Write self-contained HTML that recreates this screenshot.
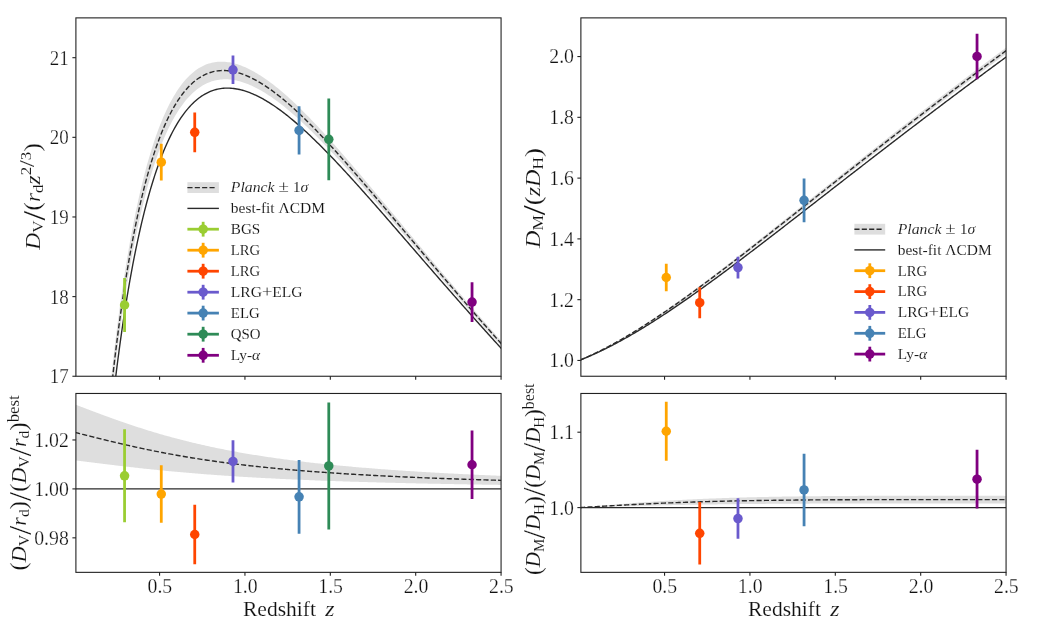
<!DOCTYPE html>
<html><head><meta charset="utf-8"><title>BAO distance measurements</title>
<style>
html,body{margin:0;padding:0;background:#fff;}
svg{display:block;}
text{font-family:"Liberation Serif",serif;fill:#111;stroke:#fff;stroke-width:0.15px;}
text.t{stroke-width:0.25px;}
text.l{stroke-width:0.1px;}
tspan.s{stroke-width:0.1px;}
</style></head>
<body>
<svg width="1044" height="629" viewBox="0 0 1044 629" style="will-change:transform">
<rect width="1044" height="629" fill="#fff"/>
<defs>
<clipPath id="cTL"><rect x="75.9" y="17.88" width="425.17" height="358.37"/></clipPath>
<clipPath id="cBL"><rect x="75.9" y="393.47" width="425.17" height="178.88"/></clipPath>
<clipPath id="cTR"><rect x="580.88" y="17.88" width="425.19" height="358.37"/></clipPath>
<clipPath id="cBR"><rect x="580.88" y="393.47" width="425.19" height="178.88"/></clipPath>
</defs>
<g clip-path="url(#cTL)">
<path d="M75.05,1325.00 L75.47,1267.16 L75.90,1221.19 L76.32,1182.46 L76.74,1148.70 L77.17,1118.59 L77.59,1091.31 L78.01,1066.29 L78.44,1043.13 L78.86,1021.54 L79.28,1001.28 L79.70,982.17 L80.13,964.08 L80.55,946.89 L80.97,930.50 L81.40,914.83 L81.82,899.81 L82.24,885.38 L82.67,871.50 L83.09,858.12 L83.51,845.20 L83.94,832.71 L84.36,820.61 L84.78,808.89 L85.21,797.51 L85.63,786.46 L86.05,775.72 L86.48,765.27 L86.90,755.09 L87.32,745.16 L87.75,735.49 L88.17,726.04 L88.59,716.82 L89.02,707.81 L89.44,699.00 L89.86,690.38 L90.29,681.95 L90.71,673.70 L91.13,665.61 L91.56,657.69 L91.98,649.93 L92.40,642.31 L92.83,634.84 L93.25,627.51 L93.67,620.32 L94.10,613.25 L94.52,606.31 L94.94,599.50 L95.37,592.80 L95.79,586.21 L96.21,579.74 L96.64,573.37 L97.06,567.11 L97.48,560.95 L97.91,554.89 L98.33,548.92 L98.75,543.05 L99.18,537.26 L99.60,531.57 L100.02,525.96 L100.45,520.43 L100.87,514.98 L101.29,509.62 L101.72,504.33 L102.14,499.12 L102.56,493.98 L102.99,488.91 L103.41,483.91 L103.83,478.98 L104.26,474.12 L104.68,469.33 L105.10,464.60 L105.53,459.93 L105.95,455.33 L106.37,450.78 L106.80,446.30 L107.22,441.87 L107.64,437.50 L108.07,433.18 L108.49,428.92 L108.91,424.72 L109.34,420.56 L109.76,416.46 L110.18,412.41 L110.60,408.41 L111.03,404.46 L111.45,400.55 L111.87,396.69 L112.30,392.88 L112.72,389.12 L113.14,385.40 L113.57,381.72 L113.99,378.09 L114.41,374.50 L114.84,370.95 L115.26,367.44 L115.68,363.97 L116.11,360.55 L116.53,357.16 L116.95,353.81 L117.38,350.50 L117.80,347.23 L118.22,343.99 L118.65,340.79 L119.07,337.63 L119.49,334.50 L119.92,331.41 L120.34,328.35 L120.76,325.32 L121.19,322.33 L121.61,319.37 L122.03,316.45 L122.46,313.55 L122.88,310.69 L123.30,307.86 L123.73,305.06 L124.15,302.29 L124.57,299.55 L125.00,296.84 L125.42,294.16 L126.88,285.11 L128.35,276.39 L129.81,267.98 L131.27,259.88 L132.74,252.07 L134.20,244.54 L135.66,237.28 L137.13,230.28 L138.59,223.53 L140.06,217.02 L141.52,210.74 L142.98,204.69 L144.45,198.85 L145.91,193.22 L147.37,187.79 L148.84,182.56 L150.30,177.52 L151.76,172.66 L153.23,167.98 L154.69,163.48 L156.15,159.14 L157.62,154.96 L159.08,150.93 L160.55,147.06 L162.01,143.34 L163.47,139.77 L164.94,136.33 L166.40,133.03 L167.86,129.86 L169.33,126.81 L170.79,123.90 L172.25,121.10 L173.72,118.42 L175.18,115.86 L176.64,113.40 L178.11,111.06 L179.57,108.82 L181.04,106.69 L182.50,104.65 L183.96,102.71 L185.43,100.87 L186.89,99.12 L188.35,97.46 L189.82,95.88 L191.28,94.40 L192.74,92.99 L194.21,91.67 L195.67,90.42 L197.13,89.25 L198.60,88.16 L200.06,87.14 L201.53,86.19 L202.99,85.31 L204.45,84.49 L205.92,83.74 L207.38,83.06 L208.84,82.44 L210.31,81.88 L211.77,81.37 L213.23,80.93 L214.70,80.54 L216.16,80.21 L217.62,79.93 L219.09,79.70 L220.55,79.52 L222.02,79.40 L223.48,79.32 L224.94,79.28 L226.41,79.30 L227.87,79.35 L229.33,79.46 L230.80,79.60 L232.26,79.79 L233.72,80.01 L235.19,80.28 L236.65,80.58 L238.12,80.92 L239.58,81.30 L241.04,81.71 L242.51,82.16 L243.97,82.65 L245.43,83.16 L246.90,83.71 L248.36,84.29 L249.82,84.90 L251.29,85.55 L252.75,86.22 L254.21,86.92 L255.68,87.65 L257.14,88.40 L258.61,89.19 L260.07,90.00 L261.53,90.83 L263.00,91.69 L264.46,92.58 L265.92,93.49 L267.39,94.42 L268.85,95.38 L270.31,96.36 L271.78,97.36 L273.24,98.38 L274.70,99.43 L276.17,100.49 L277.63,101.57 L279.10,102.68 L280.56,103.80 L282.02,104.94 L283.49,106.10 L284.95,107.28 L286.41,108.47 L287.88,109.69 L289.34,110.92 L290.80,112.16 L292.27,113.42 L293.73,114.70 L295.19,115.99 L296.66,117.30 L298.12,118.62 L299.59,119.95 L301.05,121.30 L302.51,122.66 L303.98,124.03 L305.44,125.42 L306.90,126.82 L308.37,128.23 L309.83,129.65 L311.29,131.09 L312.76,132.53 L314.22,133.99 L315.68,135.46 L317.15,136.93 L318.61,138.42 L320.08,139.91 L321.54,141.42 L323.00,142.93 L324.47,144.45 L325.93,145.99 L327.39,147.52 L328.86,149.07 L330.32,150.63 L331.78,152.19 L333.25,153.76 L334.71,155.33 L336.17,156.92 L337.64,158.51 L339.10,160.10 L340.56,161.70 L342.03,163.31 L343.49,164.92 L344.96,166.54 L346.42,168.17 L347.88,169.80 L349.35,171.43 L350.81,173.07 L352.27,174.71 L353.74,176.36 L355.20,178.01 L356.66,179.67 L358.13,181.33 L359.59,182.99 L361.06,184.66 L362.52,186.33 L363.98,188.00 L365.45,189.68 L366.91,191.36 L368.37,193.04 L369.84,194.72 L371.30,196.41 L372.76,198.10 L374.23,199.79 L375.69,201.49 L377.15,203.18 L378.62,204.88 L380.08,206.58 L381.55,208.28 L383.01,209.98 L384.47,211.69 L385.94,213.39 L387.40,215.10 L388.86,216.81 L390.33,218.52 L391.79,220.23 L393.25,221.94 L394.72,223.65 L396.18,225.37 L397.64,227.08 L399.11,228.79 L400.57,230.51 L402.04,232.22 L403.50,233.94 L404.96,235.65 L406.43,237.37 L407.89,239.08 L409.35,240.80 L410.82,242.51 L412.28,244.23 L413.74,245.94 L415.21,247.66 L416.67,249.37 L418.13,251.08 L419.60,252.80 L421.06,254.51 L422.52,256.22 L423.99,257.93 L425.45,259.64 L426.92,261.35 L428.38,263.06 L429.84,264.77 L431.31,266.47 L432.77,268.18 L434.23,269.88 L435.70,271.59 L437.16,273.29 L438.62,274.99 L440.09,276.69 L441.55,278.39 L443.01,280.09 L444.48,281.78 L445.94,283.48 L447.41,285.17 L448.87,286.86 L450.33,288.55 L451.80,290.24 L453.26,291.93 L454.72,293.61 L456.19,295.29 L457.65,296.98 L459.11,298.66 L460.58,300.33 L462.04,302.01 L463.51,303.68 L464.97,305.36 L466.43,307.03 L467.90,308.69 L469.36,310.36 L470.82,312.02 L472.29,313.69 L473.75,315.35 L475.21,317.01 L476.68,318.66 L478.14,320.32 L479.60,321.97 L481.07,323.62 L482.53,325.26 L484.00,326.91 L485.46,328.55 L486.92,330.19 L488.39,331.83 L489.85,333.47 L491.31,335.10 L492.78,336.73 L494.24,338.36 L495.70,339.99 L497.17,341.61 L498.63,343.23 L500.09,344.85 L501.56,346.47 L503.02,348.08 L504.49,349.69 L504.49,344.63 L503.02,342.99 L501.56,341.35 L500.09,339.70 L498.63,338.06 L497.17,336.41 L495.70,334.75 L494.24,333.10 L492.78,331.44 L491.31,329.78 L489.85,328.12 L488.39,326.45 L486.92,324.78 L485.46,323.11 L484.00,321.44 L482.53,319.76 L481.07,318.08 L479.60,316.40 L478.14,314.72 L476.68,313.04 L475.21,311.35 L473.75,309.66 L472.29,307.97 L470.82,306.27 L469.36,304.57 L467.90,302.87 L466.43,301.17 L464.97,299.47 L463.51,297.76 L462.04,296.05 L460.58,294.34 L459.11,292.63 L457.65,290.92 L456.19,289.20 L454.72,287.48 L453.26,285.76 L451.80,284.04 L450.33,282.32 L448.87,280.59 L447.41,278.86 L445.94,277.13 L444.48,275.40 L443.01,273.67 L441.55,271.93 L440.09,270.19 L438.62,268.46 L437.16,266.72 L435.70,264.97 L434.23,263.23 L432.77,261.49 L431.31,259.74 L429.84,257.99 L428.38,256.25 L426.92,254.50 L425.45,252.75 L423.99,250.99 L422.52,249.24 L421.06,247.49 L419.60,245.73 L418.13,243.98 L416.67,242.22 L415.21,240.46 L413.74,238.70 L412.28,236.94 L410.82,235.18 L409.35,233.42 L407.89,231.66 L406.43,229.90 L404.96,228.14 L403.50,226.38 L402.04,224.62 L400.57,222.85 L399.11,221.09 L397.64,219.33 L396.18,217.57 L394.72,215.81 L393.25,214.05 L391.79,212.28 L390.33,210.52 L388.86,208.76 L387.40,207.00 L385.94,205.24 L384.47,203.49 L383.01,201.73 L381.55,199.97 L380.08,198.22 L378.62,196.47 L377.15,194.71 L375.69,192.96 L374.23,191.21 L372.76,189.47 L371.30,187.72 L369.84,185.98 L368.37,184.23 L366.91,182.49 L365.45,180.76 L363.98,179.02 L362.52,177.29 L361.06,175.56 L359.59,173.83 L358.13,172.11 L356.66,170.39 L355.20,168.67 L353.74,166.96 L352.27,165.25 L350.81,163.54 L349.35,161.84 L347.88,160.14 L346.42,158.45 L344.96,156.76 L343.49,155.07 L342.03,153.39 L340.56,151.72 L339.10,150.05 L337.64,148.39 L336.17,146.73 L334.71,145.08 L333.25,143.43 L331.78,141.79 L330.32,140.16 L328.86,138.53 L327.39,136.91 L325.93,135.30 L324.47,133.69 L323.00,132.10 L321.54,130.51 L320.08,128.93 L318.61,127.36 L317.15,125.79 L315.68,124.24 L314.22,122.70 L312.76,121.16 L311.29,119.64 L309.83,118.12 L308.37,116.62 L306.90,115.13 L305.44,113.64 L303.98,112.17 L302.51,110.72 L301.05,109.27 L299.59,107.84 L298.12,106.42 L296.66,105.01 L295.19,103.62 L293.73,102.24 L292.27,100.87 L290.80,99.52 L289.34,98.19 L287.88,96.87 L286.41,95.56 L284.95,94.27 L283.49,93.00 L282.02,91.75 L280.56,90.51 L279.10,89.30 L277.63,88.10 L276.17,86.91 L274.70,85.75 L273.24,84.61 L271.78,83.49 L270.31,82.39 L268.85,81.31 L267.39,80.25 L265.92,79.21 L264.46,78.20 L263.00,77.21 L261.53,76.25 L260.07,75.30 L258.61,74.39 L257.14,73.50 L255.68,72.63 L254.21,71.79 L252.75,70.98 L251.29,70.20 L249.82,69.45 L248.36,68.72 L246.90,68.03 L245.43,67.37 L243.97,66.74 L242.51,66.14 L241.04,65.57 L239.58,65.04 L238.12,64.55 L236.65,64.09 L235.19,63.66 L233.72,63.28 L232.26,62.93 L230.80,62.62 L229.33,62.36 L227.87,62.13 L226.41,61.95 L224.94,61.81 L223.48,61.72 L222.02,61.68 L220.55,61.68 L219.09,61.73 L217.62,61.83 L216.16,61.98 L214.70,62.19 L213.23,62.44 L211.77,62.76 L210.31,63.13 L208.84,63.56 L207.38,64.05 L205.92,64.60 L204.45,65.22 L202.99,65.90 L201.53,66.65 L200.06,67.47 L198.60,68.35 L197.13,69.31 L195.67,70.35 L194.21,71.46 L192.74,72.65 L191.28,73.92 L189.82,75.27 L188.35,76.71 L186.89,78.24 L185.43,79.85 L183.96,81.56 L182.50,83.37 L181.04,85.27 L179.57,87.27 L178.11,89.37 L176.64,91.58 L175.18,93.90 L173.72,96.34 L172.25,98.88 L170.79,101.55 L169.33,104.34 L167.86,107.25 L166.40,110.29 L164.94,113.47 L163.47,116.78 L162.01,120.23 L160.55,123.83 L159.08,127.58 L157.62,131.48 L156.15,135.55 L154.69,139.77 L153.23,144.17 L151.76,148.73 L150.30,153.48 L148.84,158.42 L147.37,163.55 L145.91,168.87 L144.45,174.40 L142.98,180.15 L141.52,186.11 L140.06,192.31 L138.59,198.73 L137.13,205.41 L135.66,212.33 L134.20,219.53 L132.74,226.99 L131.27,234.74 L129.81,242.79 L128.35,251.15 L126.88,259.83 L125.42,268.85 L125.00,271.52 L124.57,274.23 L124.15,276.96 L123.73,279.72 L123.30,282.52 L122.88,285.34 L122.46,288.20 L122.03,291.09 L121.61,294.02 L121.19,296.97 L120.76,299.96 L120.34,302.99 L119.92,306.05 L119.49,309.14 L119.07,312.27 L118.65,315.44 L118.22,318.64 L117.80,321.88 L117.38,325.16 L116.95,328.47 L116.53,331.83 L116.11,335.23 L115.68,338.66 L115.26,342.14 L114.84,345.66 L114.41,349.22 L113.99,352.82 L113.57,356.47 L113.14,360.16 L112.72,363.89 L112.30,367.68 L111.87,371.50 L111.45,375.38 L111.03,379.31 L110.60,383.28 L110.18,387.30 L109.76,391.38 L109.34,395.51 L108.91,399.69 L108.49,403.92 L108.07,408.21 L107.64,412.55 L107.22,416.95 L106.80,421.42 L106.37,425.93 L105.95,430.52 L105.53,435.16 L105.10,439.86 L104.68,444.63 L104.26,449.47 L103.83,454.37 L103.41,459.35 L102.99,464.39 L102.56,469.51 L102.14,474.70 L101.72,479.96 L101.29,485.30 L100.87,490.73 L100.45,496.23 L100.02,501.82 L99.60,507.49 L99.18,513.25 L98.75,519.10 L98.33,525.04 L97.91,531.08 L97.48,537.22 L97.06,543.46 L96.64,549.80 L96.21,556.25 L95.79,562.80 L95.37,569.47 L94.94,576.26 L94.52,583.17 L94.10,590.21 L93.67,597.37 L93.25,604.67 L92.83,612.10 L92.40,619.68 L91.98,627.41 L91.56,635.29 L91.13,643.33 L90.71,651.54 L90.29,659.92 L89.86,668.49 L89.44,677.24 L89.02,686.19 L88.59,695.35 L88.17,704.72 L87.75,714.33 L87.32,724.17 L86.90,734.26 L86.48,744.62 L86.05,755.25 L85.63,766.18 L85.21,777.43 L84.78,789.01 L84.36,800.95 L83.94,813.27 L83.51,825.99 L83.09,839.16 L82.67,852.79 L82.24,866.94 L81.82,881.65 L81.40,896.96 L80.97,912.94 L80.55,929.66 L80.13,947.19 L79.70,965.65 L79.28,985.14 L78.86,1005.82 L78.44,1027.87 L78.01,1051.51 L77.59,1077.06 L77.17,1104.92 L76.74,1135.68 L76.32,1170.17 L75.90,1209.75 L75.47,1256.73 L75.05,1315.86 Z" fill="#dedede"/>
<path d="M75.05,1320.43 L75.47,1261.95 L75.90,1215.47 L76.32,1176.32 L76.74,1142.19 L77.17,1111.76 L77.59,1084.18 L78.01,1058.90 L78.44,1035.50 L78.86,1013.68 L79.28,993.21 L79.70,973.91 L80.13,955.64 L80.55,938.27 L80.97,921.72 L81.40,905.89 L81.82,890.73 L82.24,876.16 L82.67,862.15 L83.09,848.64 L83.51,835.60 L83.94,822.99 L84.36,810.78 L84.78,798.95 L85.21,787.47 L85.63,776.32 L86.05,765.49 L86.48,754.94 L86.90,744.67 L87.32,734.66 L87.75,724.91 L88.17,715.38 L88.59,706.09 L89.02,697.00 L89.44,688.12 L89.86,679.44 L90.29,670.94 L90.71,662.62 L91.13,654.47 L91.56,646.49 L91.98,638.67 L92.40,631.00 L92.83,623.47 L93.25,616.09 L93.67,608.84 L94.10,601.73 L94.52,594.74 L94.94,587.88 L95.37,581.14 L95.79,574.51 L96.21,567.99 L96.64,561.59 L97.06,555.28 L97.48,549.08 L97.91,542.99 L98.33,536.98 L98.75,531.07 L99.18,525.26 L99.60,519.53 L100.02,513.89 L100.45,508.33 L100.87,502.85 L101.29,497.46 L101.72,492.15 L102.14,486.91 L102.56,481.74 L102.99,476.65 L103.41,471.63 L103.83,466.68 L104.26,461.80 L104.68,456.98 L105.10,452.23 L105.53,447.55 L105.95,442.92 L106.37,438.36 L106.80,433.86 L107.22,429.41 L107.64,425.03 L108.07,420.70 L108.49,416.42 L108.91,412.20 L109.34,408.03 L109.76,403.92 L110.18,399.86 L110.60,395.84 L111.03,391.88 L111.45,387.97 L111.87,384.10 L112.30,380.28 L112.72,376.51 L113.14,372.78 L113.57,369.09 L113.99,365.45 L114.41,361.86 L114.84,358.30 L115.26,354.79 L115.68,351.32 L116.11,347.89 L116.53,344.50 L116.95,341.14 L117.38,337.83 L117.80,334.55 L118.22,331.32 L118.65,328.11 L119.07,324.95 L119.49,321.82 L119.92,318.73 L120.34,315.67 L120.76,312.64 L121.19,309.65 L121.61,306.69 L122.03,303.77 L122.46,300.88 L122.88,298.02 L123.30,295.19 L123.73,292.39 L124.15,289.62 L124.57,286.89 L125.00,284.18 L125.42,281.50 L126.88,272.47 L128.35,263.77 L129.81,255.39 L131.27,247.31 L132.74,239.53 L134.20,232.04 L135.66,224.81 L137.13,217.85 L138.59,211.13 L140.06,204.66 L141.52,198.43 L142.98,192.42 L144.45,186.63 L145.91,181.05 L147.37,175.67 L148.84,170.49 L150.30,165.50 L151.76,160.70 L153.23,156.07 L154.69,151.62 L156.15,147.34 L157.62,143.22 L159.08,139.26 L160.55,135.45 L162.01,131.79 L163.47,128.27 L164.94,124.90 L166.40,121.66 L167.86,118.55 L169.33,115.58 L170.79,112.72 L172.25,109.99 L173.72,107.38 L175.18,104.88 L176.64,102.49 L178.11,100.22 L179.57,98.05 L181.04,95.98 L182.50,94.01 L183.96,92.14 L185.43,90.36 L186.89,88.68 L188.35,87.08 L189.82,85.58 L191.28,84.16 L192.74,82.82 L194.21,81.56 L195.67,80.38 L197.13,79.28 L198.60,78.26 L200.06,77.30 L201.53,76.42 L202.99,75.60 L204.45,74.86 L205.92,74.17 L207.38,73.56 L208.84,73.00 L210.31,72.50 L211.77,72.07 L213.23,71.69 L214.70,71.36 L216.16,71.09 L217.62,70.88 L219.09,70.71 L220.55,70.60 L222.02,70.54 L223.48,70.52 L224.94,70.55 L226.41,70.62 L227.87,70.74 L229.33,70.91 L230.80,71.11 L232.26,71.36 L233.72,71.64 L235.19,71.97 L236.65,72.33 L238.12,72.73 L239.58,73.17 L241.04,73.64 L242.51,74.15 L243.97,74.69 L245.43,75.26 L246.90,75.87 L248.36,76.51 L249.82,77.18 L251.29,77.87 L252.75,78.60 L254.21,79.36 L255.68,80.14 L257.14,80.95 L258.61,81.79 L260.07,82.65 L261.53,83.54 L263.00,84.45 L264.46,85.39 L265.92,86.35 L267.39,87.34 L268.85,88.34 L270.31,89.37 L271.78,90.42 L273.24,91.50 L274.70,92.59 L276.17,93.70 L277.63,94.83 L279.10,95.99 L280.56,97.16 L282.02,98.35 L283.49,99.55 L284.95,100.78 L286.41,102.02 L287.88,103.28 L289.34,104.55 L290.80,105.84 L292.27,107.15 L293.73,108.47 L295.19,109.80 L296.66,111.15 L298.12,112.52 L299.59,113.89 L301.05,115.28 L302.51,116.69 L303.98,118.10 L305.44,119.53 L306.90,120.97 L308.37,122.43 L309.83,123.89 L311.29,125.36 L312.76,126.85 L314.22,128.34 L315.68,129.85 L317.15,131.36 L318.61,132.89 L320.08,134.42 L321.54,135.96 L323.00,137.51 L324.47,139.07 L325.93,140.64 L327.39,142.22 L328.86,143.80 L330.32,145.39 L331.78,146.99 L333.25,148.59 L334.71,150.20 L336.17,151.82 L337.64,153.45 L339.10,155.08 L340.56,156.71 L342.03,158.35 L343.49,160.00 L344.96,161.65 L346.42,163.31 L347.88,164.97 L349.35,166.63 L350.81,168.31 L352.27,169.98 L353.74,171.66 L355.20,173.34 L356.66,175.03 L358.13,176.72 L359.59,178.41 L361.06,180.11 L362.52,181.81 L363.98,183.51 L365.45,185.22 L366.91,186.92 L368.37,188.64 L369.84,190.35 L371.30,192.06 L372.76,193.78 L374.23,195.50 L375.69,197.22 L377.15,198.95 L378.62,200.67 L380.08,202.40 L381.55,204.13 L383.01,205.86 L384.47,207.59 L385.94,209.32 L387.40,211.05 L388.86,212.79 L390.33,214.52 L391.79,216.26 L393.25,217.99 L394.72,219.73 L396.18,221.47 L397.64,223.21 L399.11,224.94 L400.57,226.68 L402.04,228.42 L403.50,230.16 L404.96,231.90 L406.43,233.63 L407.89,235.37 L409.35,237.11 L410.82,238.85 L412.28,240.59 L413.74,242.32 L415.21,244.06 L416.67,245.79 L418.13,247.53 L419.60,249.26 L421.06,251.00 L422.52,252.73 L423.99,254.46 L425.45,256.19 L426.92,257.92 L428.38,259.65 L429.84,261.38 L431.31,263.11 L432.77,264.83 L434.23,266.56 L435.70,268.28 L437.16,270.00 L438.62,271.72 L440.09,273.44 L441.55,275.16 L443.01,276.88 L444.48,278.59 L445.94,280.30 L447.41,282.02 L448.87,283.73 L450.33,285.43 L451.80,287.14 L453.26,288.84 L454.72,290.55 L456.19,292.25 L457.65,293.95 L459.11,295.64 L460.58,297.34 L462.04,299.03 L463.51,300.72 L464.97,302.41 L466.43,304.10 L467.90,305.78 L469.36,307.47 L470.82,309.15 L472.29,310.83 L473.75,312.50 L475.21,314.18 L476.68,315.85 L478.14,317.52 L479.60,319.19 L481.07,320.85 L482.53,322.51 L484.00,324.17 L485.46,325.83 L486.92,327.49 L488.39,329.14 L489.85,330.79 L491.31,332.44 L492.78,334.09 L494.24,335.73 L495.70,337.37 L497.17,339.01 L498.63,340.64 L500.09,342.28 L501.56,343.91 L503.02,345.54 L504.49,347.16" fill="none" stroke="#2a2a2a" stroke-width="1.39" stroke-dasharray="5.14 2.22"/>
<path d="M75.05,1329.68 L75.47,1272.49 L75.90,1227.04 L76.32,1188.75 L76.74,1155.36 L77.17,1125.58 L77.59,1098.60 L78.01,1073.85 L78.44,1050.94 L78.86,1029.58 L79.28,1009.53 L79.70,990.63 L80.13,972.73 L80.55,955.71 L80.97,939.49 L81.40,923.98 L81.82,909.11 L82.24,894.83 L82.67,881.08 L83.09,867.83 L83.51,855.03 L83.94,842.66 L84.36,830.68 L84.78,819.07 L85.21,807.80 L85.63,796.85 L86.05,786.20 L86.48,775.84 L86.90,765.75 L87.32,755.92 L87.75,746.33 L88.17,736.97 L88.59,727.82 L89.02,718.89 L89.44,710.15 L89.86,701.61 L90.29,693.24 L90.71,685.06 L91.13,677.04 L91.56,669.18 L91.98,661.47 L92.40,653.91 L92.83,646.50 L93.25,639.23 L93.67,632.08 L94.10,625.07 L94.52,618.18 L94.94,611.41 L95.37,604.76 L95.79,598.22 L96.21,591.79 L96.64,585.47 L97.06,579.25 L97.48,573.12 L97.91,567.10 L98.33,561.17 L98.75,555.33 L99.18,549.58 L99.60,543.92 L100.02,538.34 L100.45,532.85 L100.87,527.43 L101.29,522.09 L101.72,516.83 L102.14,511.65 L102.56,506.54 L102.99,501.49 L103.41,496.52 L103.83,491.62 L104.26,486.78 L104.68,482.01 L105.10,477.30 L105.53,472.65 L105.95,468.07 L106.37,463.54 L106.80,459.07 L107.22,454.66 L107.64,450.31 L108.07,446.01 L108.49,441.77 L108.91,437.57 L109.34,433.43 L109.76,429.35 L110.18,425.31 L110.60,421.32 L111.03,417.38 L111.45,413.48 L111.87,409.64 L112.30,405.83 L112.72,402.08 L113.14,398.37 L113.57,394.70 L113.99,391.07 L114.41,387.49 L114.84,383.95 L115.26,380.44 L115.68,376.98 L116.11,373.56 L116.53,370.18 L116.95,366.83 L117.38,363.53 L117.80,360.26 L118.22,357.02 L118.65,353.83 L119.07,350.66 L119.49,347.54 L119.92,344.44 L120.34,341.39 L120.76,338.36 L121.19,335.37 L121.61,332.41 L122.03,329.48 L122.46,326.59 L122.88,323.72 L123.30,320.89 L123.73,318.09 L124.15,315.32 L124.57,312.57 L125.00,309.86 L125.42,307.17 L126.88,298.11 L128.35,289.37 L129.81,280.94 L131.27,272.81 L132.74,264.97 L134.20,257.41 L135.66,250.12 L137.13,243.08 L138.59,236.29 L140.06,229.73 L141.52,223.41 L142.98,217.31 L144.45,211.42 L145.91,205.74 L147.37,200.26 L148.84,194.98 L150.30,189.88 L151.76,184.97 L153.23,180.23 L154.69,175.66 L156.15,171.26 L157.62,167.02 L159.08,162.94 L160.55,159.01 L162.01,155.22 L163.47,151.58 L164.94,148.07 L166.40,144.70 L167.86,141.47 L169.33,138.36 L170.79,135.37 L172.25,132.51 L173.72,129.76 L175.18,127.12 L176.64,124.60 L178.11,122.19 L179.57,119.88 L181.04,117.67 L182.50,115.57 L183.96,113.56 L185.43,111.64 L186.89,109.82 L188.35,108.09 L189.82,106.44 L191.28,104.88 L192.74,103.41 L194.21,102.01 L195.67,100.69 L197.13,99.45 L198.60,98.29 L200.06,97.20 L201.53,96.17 L202.99,95.22 L204.45,94.34 L205.92,93.52 L207.38,92.76 L208.84,92.07 L210.31,91.44 L211.77,90.87 L213.23,90.36 L214.70,89.90 L216.16,89.50 L217.62,89.15 L219.09,88.85 L220.55,88.61 L222.02,88.41 L223.48,88.26 L224.94,88.17 L226.41,88.11 L227.87,88.10 L229.33,88.14 L230.80,88.22 L232.26,88.34 L233.72,88.50 L235.19,88.70 L236.65,88.94 L238.12,89.22 L239.58,89.53 L241.04,89.89 L242.51,90.27 L243.97,90.69 L245.43,91.15 L246.90,91.64 L248.36,92.16 L249.82,92.71 L251.29,93.29 L252.75,93.90 L254.21,94.54 L255.68,95.21 L257.14,95.91 L258.61,96.64 L260.07,97.39 L261.53,98.17 L263.00,98.97 L264.46,99.80 L265.92,100.66 L267.39,101.54 L268.85,102.44 L270.31,103.36 L271.78,104.31 L273.24,105.28 L274.70,106.27 L276.17,107.28 L277.63,108.31 L279.10,109.36 L280.56,110.43 L282.02,111.53 L283.49,112.63 L284.95,113.76 L286.41,114.91 L287.88,116.07 L289.34,117.25 L290.80,118.45 L292.27,119.66 L293.73,120.89 L295.19,122.13 L296.66,123.39 L298.12,124.67 L299.59,125.95 L301.05,127.26 L302.51,128.57 L303.98,129.90 L305.44,131.24 L306.90,132.60 L308.37,133.97 L309.83,135.34 L311.29,136.74 L312.76,138.14 L314.22,139.55 L315.68,140.97 L317.15,142.41 L318.61,143.85 L320.08,145.31 L321.54,146.77 L323.00,148.25 L324.47,149.73 L325.93,151.22 L327.39,152.72 L328.86,154.23 L330.32,155.74 L331.78,157.27 L333.25,158.80 L334.71,160.34 L336.17,161.88 L337.64,163.43 L339.10,164.99 L340.56,166.56 L342.03,168.13 L343.49,169.71 L344.96,171.29 L346.42,172.88 L347.88,174.47 L349.35,176.07 L350.81,177.68 L352.27,179.29 L353.74,180.90 L355.20,182.52 L356.66,184.14 L358.13,185.77 L359.59,187.40 L361.06,189.03 L362.52,190.67 L363.98,192.31 L365.45,193.96 L366.91,195.60 L368.37,197.26 L369.84,198.91 L371.30,200.57 L372.76,202.23 L374.23,203.89 L375.69,205.55 L377.15,207.22 L378.62,208.89 L380.08,210.56 L381.55,212.23 L383.01,213.91 L384.47,215.58 L385.94,217.26 L387.40,218.94 L388.86,220.62 L390.33,222.30 L391.79,223.99 L393.25,225.67 L394.72,227.36 L396.18,229.04 L397.64,230.73 L399.11,232.42 L400.57,234.11 L402.04,235.80 L403.50,237.49 L404.96,239.18 L406.43,240.87 L407.89,242.56 L409.35,244.25 L410.82,245.94 L412.28,247.63 L413.74,249.32 L415.21,251.01 L416.67,252.70 L418.13,254.39 L419.60,256.08 L421.06,257.77 L422.52,259.46 L423.99,261.15 L425.45,262.84 L426.92,264.52 L428.38,266.21 L429.84,267.90 L431.31,269.58 L432.77,271.26 L434.23,272.95 L435.70,274.63 L437.16,276.31 L438.62,277.99 L440.09,279.67 L441.55,281.35 L443.01,283.03 L444.48,284.70 L445.94,286.38 L447.41,288.05 L448.87,289.72 L450.33,291.39 L451.80,293.06 L453.26,294.73 L454.72,296.39 L456.19,298.06 L457.65,299.72 L459.11,301.38 L460.58,303.04 L462.04,304.70 L463.51,306.36 L464.97,308.01 L466.43,309.66 L467.90,311.31 L469.36,312.96 L470.82,314.61 L472.29,316.25 L473.75,317.90 L475.21,319.54 L476.68,321.18 L478.14,322.81 L479.60,324.45 L481.07,326.08 L482.53,327.71 L484.00,329.34 L485.46,330.97 L486.92,332.59 L488.39,334.22 L489.85,335.84 L491.31,337.45 L492.78,339.07 L494.24,340.68 L495.70,342.29 L497.17,343.90 L498.63,345.51 L500.09,347.11 L501.56,348.72 L503.02,350.31 L504.49,351.91" fill="none" stroke="#2a2a2a" stroke-width="1.39"/>
<line x1="124.57" y1="331.95" x2="124.57" y2="278.04" stroke="#9acd32" stroke-width="2.78"/><circle cx="124.57" cy="304.99" r="4.75" fill="#9acd32"/>
<line x1="161.28" y1="180.62" x2="161.28" y2="143.77" stroke="#ffa500" stroke-width="2.78"/><circle cx="161.28" cy="162.20" r="4.75" fill="#ffa500"/>
<line x1="194.74" y1="152.15" x2="194.74" y2="112.55" stroke="#ff4500" stroke-width="2.78"/><circle cx="194.74" cy="132.35" r="4.75" fill="#ff4500"/>
<line x1="232.99" y1="83.95" x2="232.99" y2="55.61" stroke="#6a5acd" stroke-width="2.78"/><circle cx="232.99" cy="69.78" r="4.75" fill="#6a5acd"/>
<line x1="299.07" y1="154.60" x2="299.07" y2="106.32" stroke="#4682b4" stroke-width="2.78"/><circle cx="299.07" cy="130.46" r="4.75" fill="#4682b4"/>
<line x1="328.78" y1="180.20" x2="328.78" y2="98.43" stroke="#2e8b57" stroke-width="2.78"/><circle cx="328.78" cy="139.31" r="4.75" fill="#2e8b57"/>
<line x1="472.04" y1="321.88" x2="472.04" y2="282.18" stroke="#800080" stroke-width="2.78"/><circle cx="472.04" cy="302.03" r="4.75" fill="#800080"/>
</g>
<g clip-path="url(#cBL)">
<path d="M75.05,460.33 L75.47,460.39 L75.90,460.44 L76.32,460.49 L76.74,460.55 L77.17,460.60 L77.59,460.65 L78.01,460.71 L78.44,460.76 L78.86,460.81 L79.28,460.87 L79.70,460.92 L80.13,460.97 L80.55,461.03 L80.97,461.08 L81.40,461.13 L81.82,461.19 L82.24,461.24 L82.67,461.29 L83.09,461.35 L83.51,461.40 L83.94,461.45 L84.36,461.51 L84.78,461.56 L85.21,461.61 L85.63,461.67 L86.05,461.72 L86.48,461.77 L86.90,461.83 L87.32,461.88 L87.75,461.93 L88.17,461.99 L88.59,462.04 L89.02,462.09 L89.44,462.15 L89.86,462.20 L90.29,462.25 L90.71,462.31 L91.13,462.36 L91.56,462.41 L91.98,462.47 L92.40,462.52 L92.83,462.57 L93.25,462.62 L93.67,462.68 L94.10,462.73 L94.52,462.78 L94.94,462.84 L95.37,462.89 L95.79,462.94 L96.21,462.99 L96.64,463.05 L97.06,463.10 L97.48,463.15 L97.91,463.20 L98.33,463.26 L98.75,463.31 L99.18,463.36 L99.60,463.42 L100.02,463.47 L100.45,463.52 L100.87,463.57 L101.29,463.62 L101.72,463.68 L102.14,463.73 L102.56,463.78 L102.99,463.83 L103.41,463.89 L103.83,463.94 L104.26,463.99 L104.68,464.04 L105.10,464.09 L105.53,464.15 L105.95,464.20 L106.37,464.25 L106.80,464.30 L107.22,464.35 L107.64,464.40 L108.07,464.46 L108.49,464.51 L108.91,464.56 L109.34,464.61 L109.76,464.66 L110.18,464.71 L110.60,464.76 L111.03,464.82 L111.45,464.87 L111.87,464.92 L112.30,464.97 L112.72,465.02 L113.14,465.07 L113.57,465.12 L113.99,465.17 L114.41,465.22 L114.84,465.27 L115.26,465.32 L115.68,465.38 L116.11,465.43 L116.53,465.48 L116.95,465.53 L117.38,465.58 L117.80,465.63 L118.22,465.68 L118.65,465.73 L119.07,465.78 L119.49,465.83 L119.92,465.88 L120.34,465.93 L120.76,465.98 L121.19,466.03 L121.61,466.08 L122.03,466.13 L122.46,466.18 L122.88,466.23 L123.30,466.27 L123.73,466.32 L124.15,466.37 L124.57,466.42 L125.00,466.47 L125.42,466.52 L126.88,466.69 L128.35,466.86 L129.81,467.02 L131.27,467.19 L132.74,467.36 L134.20,467.52 L135.66,467.68 L137.13,467.85 L138.59,468.01 L140.06,468.17 L141.52,468.33 L142.98,468.49 L144.45,468.64 L145.91,468.80 L147.37,468.96 L148.84,469.11 L150.30,469.26 L151.76,469.42 L153.23,469.57 L154.69,469.72 L156.15,469.87 L157.62,470.01 L159.08,470.16 L160.55,470.31 L162.01,470.45 L163.47,470.59 L164.94,470.74 L166.40,470.88 L167.86,471.02 L169.33,471.16 L170.79,471.30 L172.25,471.43 L173.72,471.57 L175.18,471.70 L176.64,471.84 L178.11,471.97 L179.57,472.10 L181.04,472.23 L182.50,472.36 L183.96,472.49 L185.43,472.62 L186.89,472.75 L188.35,472.87 L189.82,472.99 L191.28,473.12 L192.74,473.24 L194.21,473.36 L195.67,473.48 L197.13,473.60 L198.60,473.72 L200.06,473.83 L201.53,473.95 L202.99,474.07 L204.45,474.18 L205.92,474.29 L207.38,474.40 L208.84,474.51 L210.31,474.62 L211.77,474.73 L213.23,474.84 L214.70,474.95 L216.16,475.05 L217.62,475.16 L219.09,475.26 L220.55,475.37 L222.02,475.47 L223.48,475.57 L224.94,475.67 L226.41,475.77 L227.87,475.87 L229.33,475.97 L230.80,476.06 L232.26,476.16 L233.72,476.25 L235.19,476.35 L236.65,476.44 L238.12,476.53 L239.58,476.63 L241.04,476.72 L242.51,476.81 L243.97,476.90 L245.43,476.98 L246.90,477.07 L248.36,477.16 L249.82,477.25 L251.29,477.33 L252.75,477.41 L254.21,477.50 L255.68,477.58 L257.14,477.66 L258.61,477.74 L260.07,477.83 L261.53,477.90 L263.00,477.98 L264.46,478.06 L265.92,478.14 L267.39,478.22 L268.85,478.29 L270.31,478.37 L271.78,478.44 L273.24,478.52 L274.70,478.59 L276.17,478.66 L277.63,478.74 L279.10,478.81 L280.56,478.88 L282.02,478.95 L283.49,479.02 L284.95,479.09 L286.41,479.16 L287.88,479.22 L289.34,479.29 L290.80,479.36 L292.27,479.42 L293.73,479.49 L295.19,479.55 L296.66,479.62 L298.12,479.68 L299.59,479.75 L301.05,479.81 L302.51,479.87 L303.98,479.93 L305.44,479.99 L306.90,480.05 L308.37,480.11 L309.83,480.17 L311.29,480.23 L312.76,480.29 L314.22,480.35 L315.68,480.40 L317.15,480.46 L318.61,480.52 L320.08,480.57 L321.54,480.63 L323.00,480.68 L324.47,480.74 L325.93,480.79 L327.39,480.84 L328.86,480.90 L330.32,480.95 L331.78,481.00 L333.25,481.05 L334.71,481.10 L336.17,481.15 L337.64,481.20 L339.10,481.25 L340.56,481.30 L342.03,481.35 L343.49,481.40 L344.96,481.45 L346.42,481.50 L347.88,481.54 L349.35,481.59 L350.81,481.64 L352.27,481.68 L353.74,481.73 L355.20,481.77 L356.66,481.82 L358.13,481.86 L359.59,481.91 L361.06,481.95 L362.52,482.00 L363.98,482.04 L365.45,482.08 L366.91,482.12 L368.37,482.17 L369.84,482.21 L371.30,482.25 L372.76,482.29 L374.23,482.33 L375.69,482.37 L377.15,482.41 L378.62,482.45 L380.08,482.49 L381.55,482.53 L383.01,482.57 L384.47,482.61 L385.94,482.65 L387.40,482.68 L388.86,482.72 L390.33,482.76 L391.79,482.80 L393.25,482.83 L394.72,482.87 L396.18,482.91 L397.64,482.94 L399.11,482.98 L400.57,483.01 L402.04,483.05 L403.50,483.08 L404.96,483.12 L406.43,483.15 L407.89,483.19 L409.35,483.22 L410.82,483.25 L412.28,483.29 L413.74,483.32 L415.21,483.35 L416.67,483.38 L418.13,483.42 L419.60,483.45 L421.06,483.48 L422.52,483.51 L423.99,483.54 L425.45,483.57 L426.92,483.61 L428.38,483.64 L429.84,483.67 L431.31,483.70 L432.77,483.73 L434.23,483.76 L435.70,483.79 L437.16,483.81 L438.62,483.84 L440.09,483.87 L441.55,483.90 L443.01,483.93 L444.48,483.96 L445.94,483.99 L447.41,484.01 L448.87,484.04 L450.33,484.07 L451.80,484.10 L453.26,484.12 L454.72,484.15 L456.19,484.18 L457.65,484.20 L459.11,484.23 L460.58,484.26 L462.04,484.28 L463.51,484.31 L464.97,484.33 L466.43,484.36 L467.90,484.38 L469.36,484.41 L470.82,484.43 L472.29,484.46 L473.75,484.48 L475.21,484.51 L476.68,484.53 L478.14,484.56 L479.60,484.58 L481.07,484.60 L482.53,484.63 L484.00,484.65 L485.46,484.67 L486.92,484.70 L488.39,484.72 L489.85,484.74 L491.31,484.77 L492.78,484.79 L494.24,484.81 L495.70,484.83 L497.17,484.85 L498.63,484.88 L500.09,484.90 L501.56,484.92 L503.02,484.94 L504.49,484.96 L504.49,475.97 L503.02,475.91 L501.56,475.85 L500.09,475.79 L498.63,475.73 L497.17,475.67 L495.70,475.60 L494.24,475.54 L492.78,475.48 L491.31,475.42 L489.85,475.35 L488.39,475.29 L486.92,475.22 L485.46,475.16 L484.00,475.09 L482.53,475.03 L481.07,474.96 L479.60,474.90 L478.14,474.83 L476.68,474.76 L475.21,474.69 L473.75,474.62 L472.29,474.56 L470.82,474.49 L469.36,474.42 L467.90,474.35 L466.43,474.28 L464.97,474.20 L463.51,474.13 L462.04,474.06 L460.58,473.99 L459.11,473.91 L457.65,473.84 L456.19,473.77 L454.72,473.69 L453.26,473.62 L451.80,473.54 L450.33,473.46 L448.87,473.39 L447.41,473.31 L445.94,473.23 L444.48,473.15 L443.01,473.07 L441.55,472.99 L440.09,472.91 L438.62,472.83 L437.16,472.75 L435.70,472.67 L434.23,472.58 L432.77,472.50 L431.31,472.42 L429.84,472.33 L428.38,472.25 L426.92,472.16 L425.45,472.07 L423.99,471.99 L422.52,471.90 L421.06,471.81 L419.60,471.72 L418.13,471.63 L416.67,471.54 L415.21,471.45 L413.74,471.36 L412.28,471.26 L410.82,471.17 L409.35,471.08 L407.89,470.98 L406.43,470.89 L404.96,470.79 L403.50,470.69 L402.04,470.59 L400.57,470.49 L399.11,470.40 L397.64,470.30 L396.18,470.19 L394.72,470.09 L393.25,469.99 L391.79,469.89 L390.33,469.78 L388.86,469.68 L387.40,469.57 L385.94,469.46 L384.47,469.36 L383.01,469.25 L381.55,469.14 L380.08,469.03 L378.62,468.92 L377.15,468.80 L375.69,468.69 L374.23,468.58 L372.76,468.46 L371.30,468.35 L369.84,468.23 L368.37,468.11 L366.91,467.99 L365.45,467.87 L363.98,467.75 L362.52,467.63 L361.06,467.51 L359.59,467.38 L358.13,467.26 L356.66,467.13 L355.20,467.01 L353.74,466.88 L352.27,466.75 L350.81,466.62 L349.35,466.49 L347.88,466.36 L346.42,466.22 L344.96,466.09 L343.49,465.95 L342.03,465.82 L340.56,465.68 L339.10,465.54 L337.64,465.40 L336.17,465.25 L334.71,465.11 L333.25,464.97 L331.78,464.82 L330.32,464.68 L328.86,464.53 L327.39,464.38 L325.93,464.23 L324.47,464.07 L323.00,463.92 L321.54,463.77 L320.08,463.61 L318.61,463.45 L317.15,463.29 L315.68,463.13 L314.22,462.97 L312.76,462.81 L311.29,462.64 L309.83,462.48 L308.37,462.31 L306.90,462.14 L305.44,461.97 L303.98,461.80 L302.51,461.62 L301.05,461.45 L299.59,461.27 L298.12,461.09 L296.66,460.91 L295.19,460.73 L293.73,460.54 L292.27,460.36 L290.80,460.17 L289.34,459.98 L287.88,459.79 L286.41,459.60 L284.95,459.41 L283.49,459.21 L282.02,459.01 L280.56,458.81 L279.10,458.61 L277.63,458.41 L276.17,458.20 L274.70,457.99 L273.24,457.79 L271.78,457.57 L270.31,457.36 L268.85,457.15 L267.39,456.93 L265.92,456.71 L264.46,456.49 L263.00,456.27 L261.53,456.04 L260.07,455.81 L258.61,455.58 L257.14,455.35 L255.68,455.12 L254.21,454.88 L252.75,454.64 L251.29,454.40 L249.82,454.16 L248.36,453.91 L246.90,453.67 L245.43,453.42 L243.97,453.16 L242.51,452.91 L241.04,452.65 L239.58,452.39 L238.12,452.13 L236.65,451.86 L235.19,451.60 L233.72,451.33 L232.26,451.05 L230.80,450.78 L229.33,450.50 L227.87,450.22 L226.41,449.94 L224.94,449.65 L223.48,449.37 L222.02,449.08 L220.55,448.78 L219.09,448.49 L217.62,448.19 L216.16,447.88 L214.70,447.58 L213.23,447.27 L211.77,446.96 L210.31,446.65 L208.84,446.33 L207.38,446.01 L205.92,445.69 L204.45,445.36 L202.99,445.04 L201.53,444.71 L200.06,444.37 L198.60,444.03 L197.13,443.69 L195.67,443.35 L194.21,443.00 L192.74,442.65 L191.28,442.30 L189.82,441.94 L188.35,441.58 L186.89,441.22 L185.43,440.86 L183.96,440.49 L182.50,440.11 L181.04,439.74 L179.57,439.36 L178.11,438.98 L176.64,438.59 L175.18,438.20 L173.72,437.81 L172.25,437.42 L170.79,437.02 L169.33,436.61 L167.86,436.21 L166.40,435.80 L164.94,435.39 L163.47,434.97 L162.01,434.55 L160.55,434.13 L159.08,433.70 L157.62,433.28 L156.15,432.84 L154.69,432.41 L153.23,431.97 L151.76,431.52 L150.30,431.08 L148.84,430.63 L147.37,430.18 L145.91,429.72 L144.45,429.26 L142.98,428.80 L141.52,428.33 L140.06,427.86 L138.59,427.39 L137.13,426.92 L135.66,426.44 L134.20,425.95 L132.74,425.47 L131.27,424.98 L129.81,424.49 L128.35,424.00 L126.88,423.50 L125.42,423.00 L125.00,422.85 L124.57,422.71 L124.15,422.56 L123.73,422.42 L123.30,422.27 L122.88,422.12 L122.46,421.98 L122.03,421.83 L121.61,421.68 L121.19,421.54 L120.76,421.39 L120.34,421.24 L119.92,421.09 L119.49,420.95 L119.07,420.80 L118.65,420.65 L118.22,420.50 L117.80,420.35 L117.38,420.20 L116.95,420.05 L116.53,419.90 L116.11,419.75 L115.68,419.60 L115.26,419.45 L114.84,419.30 L114.41,419.15 L113.99,419.00 L113.57,418.85 L113.14,418.70 L112.72,418.54 L112.30,418.39 L111.87,418.24 L111.45,418.09 L111.03,417.94 L110.60,417.78 L110.18,417.63 L109.76,417.48 L109.34,417.32 L108.91,417.17 L108.49,417.02 L108.07,416.86 L107.64,416.71 L107.22,416.56 L106.80,416.40 L106.37,416.25 L105.95,416.09 L105.53,415.94 L105.10,415.78 L104.68,415.63 L104.26,415.47 L103.83,415.32 L103.41,415.16 L102.99,415.00 L102.56,414.85 L102.14,414.69 L101.72,414.54 L101.29,414.38 L100.87,414.22 L100.45,414.07 L100.02,413.91 L99.60,413.75 L99.18,413.59 L98.75,413.44 L98.33,413.28 L97.91,413.12 L97.48,412.96 L97.06,412.81 L96.64,412.65 L96.21,412.49 L95.79,412.33 L95.37,412.17 L94.94,412.01 L94.52,411.86 L94.10,411.70 L93.67,411.54 L93.25,411.38 L92.83,411.22 L92.40,411.06 L91.98,410.90 L91.56,410.74 L91.13,410.58 L90.71,410.42 L90.29,410.26 L89.86,410.10 L89.44,409.94 L89.02,409.78 L88.59,409.62 L88.17,409.46 L87.75,409.30 L87.32,409.14 L86.90,408.98 L86.48,408.82 L86.05,408.66 L85.63,408.50 L85.21,408.34 L84.78,408.18 L84.36,408.02 L83.94,407.86 L83.51,407.70 L83.09,407.53 L82.67,407.37 L82.24,407.21 L81.82,407.05 L81.40,406.89 L80.97,406.73 L80.55,406.57 L80.13,406.41 L79.70,406.24 L79.28,406.08 L78.86,405.92 L78.44,405.76 L78.01,405.60 L77.59,405.44 L77.17,405.28 L76.74,405.11 L76.32,404.95 L75.90,404.79 L75.47,404.63 L75.05,404.47 Z" fill="#dedede"/>
<path d="M75.05,432.40 L75.47,432.51 L75.90,432.62 L76.32,432.72 L76.74,432.83 L77.17,432.94 L77.59,433.05 L78.01,433.15 L78.44,433.26 L78.86,433.37 L79.28,433.48 L79.70,433.58 L80.13,433.69 L80.55,433.80 L80.97,433.90 L81.40,434.01 L81.82,434.12 L82.24,434.23 L82.67,434.33 L83.09,434.44 L83.51,434.55 L83.94,434.66 L84.36,434.76 L84.78,434.87 L85.21,434.98 L85.63,435.08 L86.05,435.19 L86.48,435.30 L86.90,435.40 L87.32,435.51 L87.75,435.62 L88.17,435.72 L88.59,435.83 L89.02,435.94 L89.44,436.04 L89.86,436.15 L90.29,436.26 L90.71,436.36 L91.13,436.47 L91.56,436.58 L91.98,436.68 L92.40,436.79 L92.83,436.90 L93.25,437.00 L93.67,437.11 L94.10,437.21 L94.52,437.32 L94.94,437.42 L95.37,437.53 L95.79,437.64 L96.21,437.74 L96.64,437.85 L97.06,437.95 L97.48,438.06 L97.91,438.16 L98.33,438.27 L98.75,438.37 L99.18,438.48 L99.60,438.58 L100.02,438.69 L100.45,438.79 L100.87,438.90 L101.29,439.00 L101.72,439.11 L102.14,439.21 L102.56,439.31 L102.99,439.42 L103.41,439.52 L103.83,439.63 L104.26,439.73 L104.68,439.83 L105.10,439.94 L105.53,440.04 L105.95,440.14 L106.37,440.25 L106.80,440.35 L107.22,440.45 L107.64,440.56 L108.07,440.66 L108.49,440.76 L108.91,440.86 L109.34,440.97 L109.76,441.07 L110.18,441.17 L110.60,441.27 L111.03,441.38 L111.45,441.48 L111.87,441.58 L112.30,441.68 L112.72,441.78 L113.14,441.88 L113.57,441.98 L113.99,442.09 L114.41,442.19 L114.84,442.29 L115.26,442.39 L115.68,442.49 L116.11,442.59 L116.53,442.69 L116.95,442.79 L117.38,442.89 L117.80,442.99 L118.22,443.09 L118.65,443.19 L119.07,443.29 L119.49,443.39 L119.92,443.49 L120.34,443.58 L120.76,443.68 L121.19,443.78 L121.61,443.88 L122.03,443.98 L122.46,444.08 L122.88,444.17 L123.30,444.27 L123.73,444.37 L124.15,444.47 L124.57,444.57 L125.00,444.66 L125.42,444.76 L126.88,445.09 L128.35,445.43 L129.81,445.76 L131.27,446.09 L132.74,446.41 L134.20,446.74 L135.66,447.06 L137.13,447.38 L138.59,447.70 L140.06,448.02 L141.52,448.33 L142.98,448.64 L144.45,448.95 L145.91,449.26 L147.37,449.57 L148.84,449.87 L150.30,450.17 L151.76,450.47 L153.23,450.77 L154.69,451.06 L156.15,451.35 L157.62,451.64 L159.08,451.93 L160.55,452.22 L162.01,452.50 L163.47,452.78 L164.94,453.06 L166.40,453.34 L167.86,453.61 L169.33,453.89 L170.79,454.16 L172.25,454.42 L173.72,454.69 L175.18,454.95 L176.64,455.22 L178.11,455.47 L179.57,455.73 L181.04,455.99 L182.50,456.24 L183.96,456.49 L185.43,456.74 L186.89,456.98 L188.35,457.23 L189.82,457.47 L191.28,457.71 L192.74,457.95 L194.21,458.18 L195.67,458.42 L197.13,458.65 L198.60,458.88 L200.06,459.10 L201.53,459.33 L202.99,459.55 L204.45,459.77 L205.92,459.99 L207.38,460.21 L208.84,460.42 L210.31,460.64 L211.77,460.85 L213.23,461.06 L214.70,461.26 L216.16,461.47 L217.62,461.67 L219.09,461.87 L220.55,462.07 L222.02,462.27 L223.48,462.47 L224.94,462.66 L226.41,462.86 L227.87,463.05 L229.33,463.23 L230.80,463.42 L232.26,463.61 L233.72,463.79 L235.19,463.97 L236.65,464.15 L238.12,464.33 L239.58,464.51 L241.04,464.68 L242.51,464.86 L243.97,465.03 L245.43,465.20 L246.90,465.37 L248.36,465.54 L249.82,465.70 L251.29,465.87 L252.75,466.03 L254.21,466.19 L255.68,466.35 L257.14,466.51 L258.61,466.66 L260.07,466.82 L261.53,466.97 L263.00,467.12 L264.46,467.28 L265.92,467.43 L267.39,467.57 L268.85,467.72 L270.31,467.87 L271.78,468.01 L273.24,468.15 L274.70,468.29 L276.17,468.43 L277.63,468.57 L279.10,468.71 L280.56,468.85 L282.02,468.98 L283.49,469.11 L284.95,469.25 L286.41,469.38 L287.88,469.51 L289.34,469.64 L290.80,469.76 L292.27,469.89 L293.73,470.02 L295.19,470.14 L296.66,470.26 L298.12,470.39 L299.59,470.51 L301.05,470.63 L302.51,470.75 L303.98,470.86 L305.44,470.98 L306.90,471.10 L308.37,471.21 L309.83,471.32 L311.29,471.44 L312.76,471.55 L314.22,471.66 L315.68,471.77 L317.15,471.88 L318.61,471.98 L320.08,472.09 L321.54,472.20 L323.00,472.30 L324.47,472.41 L325.93,472.51 L327.39,472.61 L328.86,472.71 L330.32,472.81 L331.78,472.91 L333.25,473.01 L334.71,473.11 L336.17,473.20 L337.64,473.30 L339.10,473.40 L340.56,473.49 L342.03,473.58 L343.49,473.68 L344.96,473.77 L346.42,473.86 L347.88,473.95 L349.35,474.04 L350.81,474.13 L352.27,474.22 L353.74,474.30 L355.20,474.39 L356.66,474.48 L358.13,474.56 L359.59,474.65 L361.06,474.73 L362.52,474.81 L363.98,474.90 L365.45,474.98 L366.91,475.06 L368.37,475.14 L369.84,475.22 L371.30,475.30 L372.76,475.38 L374.23,475.45 L375.69,475.53 L377.15,475.61 L378.62,475.68 L380.08,475.76 L381.55,475.83 L383.01,475.91 L384.47,475.98 L385.94,476.06 L387.40,476.13 L388.86,476.20 L390.33,476.27 L391.79,476.34 L393.25,476.41 L394.72,476.48 L396.18,476.55 L397.64,476.62 L399.11,476.69 L400.57,476.75 L402.04,476.82 L403.50,476.89 L404.96,476.95 L406.43,477.02 L407.89,477.08 L409.35,477.15 L410.82,477.21 L412.28,477.27 L413.74,477.34 L415.21,477.40 L416.67,477.46 L418.13,477.52 L419.60,477.58 L421.06,477.64 L422.52,477.71 L423.99,477.76 L425.45,477.82 L426.92,477.88 L428.38,477.94 L429.84,478.00 L431.31,478.06 L432.77,478.11 L434.23,478.17 L435.70,478.23 L437.16,478.28 L438.62,478.34 L440.09,478.39 L441.55,478.45 L443.01,478.50 L444.48,478.55 L445.94,478.61 L447.41,478.66 L448.87,478.71 L450.33,478.77 L451.80,478.82 L453.26,478.87 L454.72,478.92 L456.19,478.97 L457.65,479.02 L459.11,479.07 L460.58,479.12 L462.04,479.17 L463.51,479.22 L464.97,479.27 L466.43,479.32 L467.90,479.37 L469.36,479.41 L470.82,479.46 L472.29,479.51 L473.75,479.55 L475.21,479.60 L476.68,479.65 L478.14,479.69 L479.60,479.74 L481.07,479.78 L482.53,479.83 L484.00,479.87 L485.46,479.92 L486.92,479.96 L488.39,480.00 L489.85,480.05 L491.31,480.09 L492.78,480.13 L494.24,480.18 L495.70,480.22 L497.17,480.26 L498.63,480.30 L500.09,480.34 L501.56,480.38 L503.02,480.42 L504.49,480.47" fill="none" stroke="#2a2a2a" stroke-width="1.39" stroke-dasharray="5.14 2.22"/>
<path d="M75.05,488.90 L75.47,488.90 L75.90,488.90 L76.32,488.90 L76.74,488.90 L77.17,488.90 L77.59,488.90 L78.01,488.90 L78.44,488.90 L78.86,488.90 L79.28,488.90 L79.70,488.90 L80.13,488.90 L80.55,488.90 L80.97,488.90 L81.40,488.90 L81.82,488.90 L82.24,488.90 L82.67,488.90 L83.09,488.90 L83.51,488.90 L83.94,488.90 L84.36,488.90 L84.78,488.90 L85.21,488.90 L85.63,488.90 L86.05,488.90 L86.48,488.90 L86.90,488.90 L87.32,488.90 L87.75,488.90 L88.17,488.90 L88.59,488.90 L89.02,488.90 L89.44,488.90 L89.86,488.90 L90.29,488.90 L90.71,488.90 L91.13,488.90 L91.56,488.90 L91.98,488.90 L92.40,488.90 L92.83,488.90 L93.25,488.90 L93.67,488.90 L94.10,488.90 L94.52,488.90 L94.94,488.90 L95.37,488.90 L95.79,488.90 L96.21,488.90 L96.64,488.90 L97.06,488.90 L97.48,488.90 L97.91,488.90 L98.33,488.90 L98.75,488.90 L99.18,488.90 L99.60,488.90 L100.02,488.90 L100.45,488.90 L100.87,488.90 L101.29,488.90 L101.72,488.90 L102.14,488.90 L102.56,488.90 L102.99,488.90 L103.41,488.90 L103.83,488.90 L104.26,488.90 L104.68,488.90 L105.10,488.90 L105.53,488.90 L105.95,488.90 L106.37,488.90 L106.80,488.90 L107.22,488.90 L107.64,488.90 L108.07,488.90 L108.49,488.90 L108.91,488.90 L109.34,488.90 L109.76,488.90 L110.18,488.90 L110.60,488.90 L111.03,488.90 L111.45,488.90 L111.87,488.90 L112.30,488.90 L112.72,488.90 L113.14,488.90 L113.57,488.90 L113.99,488.90 L114.41,488.90 L114.84,488.90 L115.26,488.90 L115.68,488.90 L116.11,488.90 L116.53,488.90 L116.95,488.90 L117.38,488.90 L117.80,488.90 L118.22,488.90 L118.65,488.90 L119.07,488.90 L119.49,488.90 L119.92,488.90 L120.34,488.90 L120.76,488.90 L121.19,488.90 L121.61,488.90 L122.03,488.90 L122.46,488.90 L122.88,488.90 L123.30,488.90 L123.73,488.90 L124.15,488.90 L124.57,488.90 L125.00,488.90 L125.42,488.90 L126.88,488.90 L128.35,488.90 L129.81,488.90 L131.27,488.90 L132.74,488.90 L134.20,488.90 L135.66,488.90 L137.13,488.90 L138.59,488.90 L140.06,488.90 L141.52,488.90 L142.98,488.90 L144.45,488.90 L145.91,488.90 L147.37,488.90 L148.84,488.90 L150.30,488.90 L151.76,488.90 L153.23,488.90 L154.69,488.90 L156.15,488.90 L157.62,488.90 L159.08,488.90 L160.55,488.90 L162.01,488.90 L163.47,488.90 L164.94,488.90 L166.40,488.90 L167.86,488.90 L169.33,488.90 L170.79,488.90 L172.25,488.90 L173.72,488.90 L175.18,488.90 L176.64,488.90 L178.11,488.90 L179.57,488.90 L181.04,488.90 L182.50,488.90 L183.96,488.90 L185.43,488.90 L186.89,488.90 L188.35,488.90 L189.82,488.90 L191.28,488.90 L192.74,488.90 L194.21,488.90 L195.67,488.90 L197.13,488.90 L198.60,488.90 L200.06,488.90 L201.53,488.90 L202.99,488.90 L204.45,488.90 L205.92,488.90 L207.38,488.90 L208.84,488.90 L210.31,488.90 L211.77,488.90 L213.23,488.90 L214.70,488.90 L216.16,488.90 L217.62,488.90 L219.09,488.90 L220.55,488.90 L222.02,488.90 L223.48,488.90 L224.94,488.90 L226.41,488.90 L227.87,488.90 L229.33,488.90 L230.80,488.90 L232.26,488.90 L233.72,488.90 L235.19,488.90 L236.65,488.90 L238.12,488.90 L239.58,488.90 L241.04,488.90 L242.51,488.90 L243.97,488.90 L245.43,488.90 L246.90,488.90 L248.36,488.90 L249.82,488.90 L251.29,488.90 L252.75,488.90 L254.21,488.90 L255.68,488.90 L257.14,488.90 L258.61,488.90 L260.07,488.90 L261.53,488.90 L263.00,488.90 L264.46,488.90 L265.92,488.90 L267.39,488.90 L268.85,488.90 L270.31,488.90 L271.78,488.90 L273.24,488.90 L274.70,488.90 L276.17,488.90 L277.63,488.90 L279.10,488.90 L280.56,488.90 L282.02,488.90 L283.49,488.90 L284.95,488.90 L286.41,488.90 L287.88,488.90 L289.34,488.90 L290.80,488.90 L292.27,488.90 L293.73,488.90 L295.19,488.90 L296.66,488.90 L298.12,488.90 L299.59,488.90 L301.05,488.90 L302.51,488.90 L303.98,488.90 L305.44,488.90 L306.90,488.90 L308.37,488.90 L309.83,488.90 L311.29,488.90 L312.76,488.90 L314.22,488.90 L315.68,488.90 L317.15,488.90 L318.61,488.90 L320.08,488.90 L321.54,488.90 L323.00,488.90 L324.47,488.90 L325.93,488.90 L327.39,488.90 L328.86,488.90 L330.32,488.90 L331.78,488.90 L333.25,488.90 L334.71,488.90 L336.17,488.90 L337.64,488.90 L339.10,488.90 L340.56,488.90 L342.03,488.90 L343.49,488.90 L344.96,488.90 L346.42,488.90 L347.88,488.90 L349.35,488.90 L350.81,488.90 L352.27,488.90 L353.74,488.90 L355.20,488.90 L356.66,488.90 L358.13,488.90 L359.59,488.90 L361.06,488.90 L362.52,488.90 L363.98,488.90 L365.45,488.90 L366.91,488.90 L368.37,488.90 L369.84,488.90 L371.30,488.90 L372.76,488.90 L374.23,488.90 L375.69,488.90 L377.15,488.90 L378.62,488.90 L380.08,488.90 L381.55,488.90 L383.01,488.90 L384.47,488.90 L385.94,488.90 L387.40,488.90 L388.86,488.90 L390.33,488.90 L391.79,488.90 L393.25,488.90 L394.72,488.90 L396.18,488.90 L397.64,488.90 L399.11,488.90 L400.57,488.90 L402.04,488.90 L403.50,488.90 L404.96,488.90 L406.43,488.90 L407.89,488.90 L409.35,488.90 L410.82,488.90 L412.28,488.90 L413.74,488.90 L415.21,488.90 L416.67,488.90 L418.13,488.90 L419.60,488.90 L421.06,488.90 L422.52,488.90 L423.99,488.90 L425.45,488.90 L426.92,488.90 L428.38,488.90 L429.84,488.90 L431.31,488.90 L432.77,488.90 L434.23,488.90 L435.70,488.90 L437.16,488.90 L438.62,488.90 L440.09,488.90 L441.55,488.90 L443.01,488.90 L444.48,488.90 L445.94,488.90 L447.41,488.90 L448.87,488.90 L450.33,488.90 L451.80,488.90 L453.26,488.90 L454.72,488.90 L456.19,488.90 L457.65,488.90 L459.11,488.90 L460.58,488.90 L462.04,488.90 L463.51,488.90 L464.97,488.90 L466.43,488.90 L467.90,488.90 L469.36,488.90 L470.82,488.90 L472.29,488.90 L473.75,488.90 L475.21,488.90 L476.68,488.90 L478.14,488.90 L479.60,488.90 L481.07,488.90 L482.53,488.90 L484.00,488.90 L485.46,488.90 L486.92,488.90 L488.39,488.90 L489.85,488.90 L491.31,488.90 L492.78,488.90 L494.24,488.90 L495.70,488.90 L497.17,488.90 L498.63,488.90 L500.09,488.90 L501.56,488.90 L503.02,488.90 L504.49,488.90" fill="none" stroke="#2a2a2a" stroke-width="1.39"/>
<line x1="124.57" y1="522.36" x2="124.57" y2="429.29" stroke="#9acd32" stroke-width="2.78"/><circle cx="124.57" cy="475.83" r="4.75" fill="#9acd32"/>
<line x1="161.28" y1="522.75" x2="161.28" y2="465.35" stroke="#ffa500" stroke-width="2.78"/><circle cx="161.28" cy="494.05" r="4.75" fill="#ffa500"/>
<line x1="194.74" y1="564.27" x2="194.74" y2="504.76" stroke="#ff4500" stroke-width="2.78"/><circle cx="194.74" cy="534.51" r="4.75" fill="#ff4500"/>
<line x1="232.99" y1="482.51" x2="232.99" y2="440.27" stroke="#6a5acd" stroke-width="2.78"/><circle cx="232.99" cy="461.39" r="4.75" fill="#6a5acd"/>
<line x1="299.07" y1="533.63" x2="299.07" y2="460.02" stroke="#4682b4" stroke-width="2.78"/><circle cx="299.07" cy="496.82" r="4.75" fill="#4682b4"/>
<line x1="328.78" y1="529.43" x2="328.78" y2="402.47" stroke="#2e8b57" stroke-width="2.78"/><circle cx="328.78" cy="465.95" r="4.75" fill="#2e8b57"/>
<line x1="472.04" y1="499.10" x2="472.04" y2="430.42" stroke="#800080" stroke-width="2.78"/><circle cx="472.04" cy="464.76" r="4.75" fill="#800080"/>
</g>
<g clip-path="url(#cTR)">
<path d="M580.02,360.10 L580.45,359.93 L580.87,359.75 L581.29,359.58 L581.72,359.40 L582.14,359.23 L582.56,359.05 L582.99,358.87 L583.41,358.69 L583.83,358.51 L584.26,358.33 L584.68,358.15 L585.10,357.97 L585.53,357.79 L585.95,357.61 L586.37,357.42 L586.80,357.24 L587.22,357.05 L587.64,356.87 L588.07,356.68 L588.49,356.49 L588.91,356.30 L589.34,356.12 L589.76,355.93 L590.18,355.74 L590.61,355.55 L591.03,355.35 L591.45,355.16 L591.88,354.97 L592.30,354.77 L592.72,354.58 L593.15,354.39 L593.57,354.19 L593.99,353.99 L594.42,353.80 L594.84,353.60 L595.26,353.40 L595.69,353.20 L596.11,353.00 L596.53,352.80 L596.96,352.60 L597.38,352.40 L597.80,352.19 L598.23,351.99 L598.65,351.79 L599.07,351.58 L599.50,351.38 L599.92,351.17 L600.34,350.96 L600.77,350.76 L601.19,350.55 L601.61,350.34 L602.04,350.13 L602.46,349.92 L602.88,349.71 L603.31,349.50 L603.73,349.29 L604.15,349.07 L604.58,348.86 L605.00,348.65 L605.42,348.43 L605.85,348.22 L606.27,348.00 L606.69,347.79 L607.12,347.57 L607.54,347.35 L607.96,347.13 L608.39,346.91 L608.81,346.69 L609.23,346.47 L609.66,346.25 L610.08,346.03 L610.50,345.81 L610.93,345.59 L611.35,345.36 L611.77,345.14 L612.20,344.92 L612.62,344.69 L613.04,344.47 L613.47,344.24 L613.89,344.01 L614.31,343.78 L614.74,343.56 L615.16,343.33 L615.58,343.10 L616.01,342.87 L616.43,342.64 L616.85,342.41 L617.28,342.18 L617.70,341.94 L618.12,341.71 L618.55,341.48 L618.97,341.24 L619.39,341.01 L619.82,340.77 L620.24,340.54 L620.66,340.30 L621.09,340.07 L621.51,339.83 L621.93,339.59 L622.36,339.35 L622.78,339.11 L623.20,338.87 L623.62,338.63 L624.05,338.39 L624.47,338.15 L624.89,337.91 L625.32,337.67 L625.74,337.43 L626.16,337.18 L626.59,336.94 L627.01,336.69 L627.43,336.45 L627.86,336.20 L628.28,335.96 L628.70,335.71 L629.13,335.46 L629.55,335.22 L629.97,334.97 L630.40,334.72 L631.86,333.86 L633.33,332.99 L634.79,332.11 L636.25,331.23 L637.72,330.34 L639.18,329.45 L640.64,328.55 L642.11,327.64 L643.57,326.73 L645.03,325.82 L646.50,324.90 L647.96,323.97 L649.43,323.04 L650.89,322.10 L652.35,321.16 L653.82,320.22 L655.28,319.27 L656.74,318.31 L658.21,317.35 L659.67,316.38 L661.13,315.42 L662.60,314.44 L664.06,313.46 L665.53,312.48 L666.99,311.49 L668.45,310.50 L669.92,309.51 L671.38,308.51 L672.84,307.50 L674.31,306.50 L675.77,305.49 L677.24,304.47 L678.70,303.45 L680.16,302.43 L681.63,301.41 L683.09,300.38 L684.55,299.35 L686.02,298.31 L687.48,297.27 L688.94,296.23 L690.41,295.19 L691.87,294.14 L693.34,293.09 L694.80,292.03 L696.26,290.98 L697.73,289.92 L699.19,288.86 L700.65,287.79 L702.12,286.72 L703.58,285.65 L705.04,284.58 L706.51,283.51 L707.97,282.43 L709.44,281.35 L710.90,280.27 L712.36,279.18 L713.83,278.10 L715.29,277.01 L716.75,275.92 L718.22,274.82 L719.68,273.73 L721.14,272.63 L722.61,271.53 L724.07,270.43 L725.54,269.33 L727.00,268.23 L728.46,267.12 L729.93,266.01 L731.39,264.90 L732.85,263.79 L734.32,262.68 L735.78,261.57 L737.24,260.45 L738.71,259.34 L740.17,258.22 L741.64,257.10 L743.10,255.98 L744.56,254.86 L746.03,253.73 L747.49,252.61 L748.95,251.48 L750.42,250.36 L751.88,249.23 L753.35,248.10 L754.81,246.97 L756.27,245.84 L757.74,244.71 L759.20,243.58 L760.66,242.44 L762.13,241.31 L763.59,240.18 L765.05,239.04 L766.52,237.90 L767.98,236.77 L769.45,235.63 L770.91,234.49 L772.37,233.35 L773.84,232.21 L775.30,231.07 L776.76,229.93 L778.23,228.79 L779.69,227.64 L781.15,226.50 L782.62,225.36 L784.08,224.22 L785.55,223.07 L787.01,221.93 L788.47,220.78 L789.94,219.64 L791.40,218.49 L792.86,217.35 L794.33,216.20 L795.79,215.05 L797.25,213.91 L798.72,212.76 L800.18,211.61 L801.65,210.47 L803.11,209.32 L804.57,208.17 L806.04,207.02 L807.50,205.88 L808.96,204.73 L810.43,203.58 L811.89,202.43 L813.36,201.29 L814.82,200.14 L816.28,198.99 L817.75,197.84 L819.21,196.69 L820.67,195.55 L822.14,194.40 L823.60,193.25 L825.06,192.10 L826.53,190.96 L827.99,189.81 L829.46,188.66 L830.92,187.52 L832.38,186.37 L833.85,185.22 L835.31,184.08 L836.77,182.93 L838.24,181.78 L839.70,180.64 L841.16,179.49 L842.63,178.35 L844.09,177.20 L845.56,176.06 L847.02,174.91 L848.48,173.77 L849.95,172.62 L851.41,171.48 L852.87,170.34 L854.34,169.19 L855.80,168.05 L857.26,166.91 L858.73,165.77 L860.19,164.63 L861.66,163.49 L863.12,162.34 L864.58,161.20 L866.05,160.06 L867.51,158.93 L868.97,157.79 L870.44,156.65 L871.90,155.51 L873.37,154.37 L874.83,153.23 L876.29,152.10 L877.76,150.96 L879.22,149.83 L880.68,148.69 L882.15,147.56 L883.61,146.42 L885.07,145.29 L886.54,144.15 L888.00,143.02 L889.47,141.89 L890.93,140.76 L892.39,139.63 L893.86,138.50 L895.32,137.37 L896.78,136.24 L898.25,135.11 L899.71,133.98 L901.17,132.85 L902.64,131.72 L904.10,130.60 L905.57,129.47 L907.03,128.35 L908.49,127.22 L909.96,126.10 L911.42,124.97 L912.88,123.85 L914.35,122.73 L915.81,121.61 L917.27,120.49 L918.74,119.36 L920.20,118.25 L921.67,117.13 L923.13,116.01 L924.59,114.89 L926.06,113.77 L927.52,112.66 L928.98,111.54 L930.45,110.42 L931.91,109.31 L933.38,108.20 L934.84,107.08 L936.30,105.97 L937.77,104.86 L939.23,103.75 L940.69,102.64 L942.16,101.53 L943.62,100.42 L945.08,99.31 L946.55,98.20 L948.01,97.09 L949.48,95.99 L950.94,94.88 L952.40,93.78 L953.87,92.67 L955.33,91.57 L956.79,90.47 L958.26,89.36 L959.72,88.26 L961.18,87.16 L962.65,86.06 L964.11,84.96 L965.58,83.86 L967.04,82.77 L968.50,81.67 L969.97,80.57 L971.43,79.48 L972.89,78.38 L974.36,77.29 L975.82,76.19 L977.28,75.10 L978.75,74.01 L980.21,72.92 L981.68,71.83 L983.14,70.74 L984.60,69.65 L986.07,68.56 L987.53,67.47 L988.99,66.39 L990.46,65.30 L991.92,64.21 L993.38,63.13 L994.85,62.05 L996.31,60.96 L997.78,59.88 L999.24,58.80 L1000.70,57.72 L1002.17,56.64 L1003.63,55.56 L1005.09,54.48 L1006.56,53.40 L1008.02,52.32 L1009.49,51.25 L1009.49,45.11 L1008.02,46.20 L1006.56,47.28 L1005.09,48.37 L1003.63,49.46 L1002.17,50.55 L1000.70,51.63 L999.24,52.72 L997.78,53.81 L996.31,54.91 L994.85,56.00 L993.38,57.09 L991.92,58.18 L990.46,59.28 L988.99,60.37 L987.53,61.47 L986.07,62.57 L984.60,63.66 L983.14,64.76 L981.68,65.86 L980.21,66.96 L978.75,68.06 L977.28,69.16 L975.82,70.27 L974.36,71.37 L972.89,72.47 L971.43,73.58 L969.97,74.68 L968.50,75.79 L967.04,76.90 L965.58,78.00 L964.11,79.11 L962.65,80.22 L961.18,81.33 L959.72,82.44 L958.26,83.55 L956.79,84.66 L955.33,85.78 L953.87,86.89 L952.40,88.01 L950.94,89.12 L949.48,90.24 L948.01,91.35 L946.55,92.47 L945.08,93.59 L943.62,94.71 L942.16,95.83 L940.69,96.95 L939.23,98.07 L937.77,99.19 L936.30,100.31 L934.84,101.44 L933.38,102.56 L931.91,103.69 L930.45,104.81 L928.98,105.94 L927.52,107.06 L926.06,108.19 L924.59,109.32 L923.13,110.45 L921.67,111.58 L920.20,112.71 L918.74,113.84 L917.27,114.97 L915.81,116.10 L914.35,117.24 L912.88,118.37 L911.42,119.51 L909.96,120.64 L908.49,121.78 L907.03,122.91 L905.57,124.05 L904.10,125.19 L902.64,126.33 L901.17,127.47 L899.71,128.61 L898.25,129.75 L896.78,130.89 L895.32,132.03 L893.86,133.17 L892.39,134.31 L890.93,135.46 L889.47,136.60 L888.00,137.75 L886.54,138.89 L885.07,140.04 L883.61,141.19 L882.15,142.33 L880.68,143.48 L879.22,144.63 L877.76,145.78 L876.29,146.93 L874.83,148.08 L873.37,149.23 L871.90,150.38 L870.44,151.53 L868.97,152.68 L867.51,153.83 L866.05,154.99 L864.58,156.14 L863.12,157.30 L861.66,158.45 L860.19,159.60 L858.73,160.76 L857.26,161.92 L855.80,163.07 L854.34,164.23 L852.87,165.39 L851.41,166.54 L849.95,167.70 L848.48,168.86 L847.02,170.02 L845.56,171.18 L844.09,172.34 L842.63,173.50 L841.16,174.66 L839.70,175.82 L838.24,176.98 L836.77,178.14 L835.31,179.31 L833.85,180.47 L832.38,181.63 L830.92,182.79 L829.46,183.96 L827.99,185.12 L826.53,186.28 L825.06,187.45 L823.60,188.61 L822.14,189.77 L820.67,190.94 L819.21,192.10 L817.75,193.27 L816.28,194.43 L814.82,195.60 L813.36,196.76 L811.89,197.93 L810.43,199.09 L808.96,200.26 L807.50,201.42 L806.04,202.59 L804.57,203.75 L803.11,204.92 L801.65,206.08 L800.18,207.25 L798.72,208.41 L797.25,209.58 L795.79,210.74 L794.33,211.91 L792.86,213.07 L791.40,214.24 L789.94,215.40 L788.47,216.56 L787.01,217.73 L785.55,218.89 L784.08,220.06 L782.62,221.22 L781.15,222.38 L779.69,223.54 L778.23,224.71 L776.76,225.87 L775.30,227.03 L773.84,228.19 L772.37,229.35 L770.91,230.51 L769.45,231.67 L767.98,232.83 L766.52,233.99 L765.05,235.15 L763.59,236.30 L762.13,237.46 L760.66,238.62 L759.20,239.77 L757.74,240.93 L756.27,242.08 L754.81,243.23 L753.35,244.38 L751.88,245.54 L750.42,246.69 L748.95,247.84 L747.49,248.98 L746.03,250.13 L744.56,251.28 L743.10,252.42 L741.64,253.57 L740.17,254.71 L738.71,255.85 L737.24,256.99 L735.78,258.13 L734.32,259.27 L732.85,260.41 L731.39,261.54 L729.93,262.68 L728.46,263.81 L727.00,264.94 L725.54,266.07 L724.07,267.20 L722.61,268.33 L721.14,269.45 L719.68,270.57 L718.22,271.69 L716.75,272.81 L715.29,273.93 L713.83,275.05 L712.36,276.16 L710.90,277.27 L709.44,278.38 L707.97,279.49 L706.51,280.59 L705.04,281.70 L703.58,282.80 L702.12,283.90 L700.65,284.99 L699.19,286.09 L697.73,287.18 L696.26,288.27 L694.80,289.35 L693.34,290.44 L691.87,291.52 L690.41,292.59 L688.94,293.67 L687.48,294.74 L686.02,295.81 L684.55,296.87 L683.09,297.94 L681.63,299.00 L680.16,300.05 L678.70,301.11 L677.24,302.16 L675.77,303.20 L674.31,304.24 L672.84,305.28 L671.38,306.32 L669.92,307.35 L668.45,308.38 L666.99,309.40 L665.53,310.42 L664.06,311.44 L662.60,312.45 L661.13,313.45 L659.67,314.46 L658.21,315.46 L656.74,316.45 L655.28,317.44 L653.82,318.42 L652.35,319.40 L650.89,320.38 L649.43,321.35 L647.96,322.32 L646.50,323.28 L645.03,324.23 L643.57,325.18 L642.11,326.13 L640.64,327.07 L639.18,328.00 L637.72,328.93 L636.25,329.85 L634.79,330.77 L633.33,331.68 L631.86,332.58 L630.40,333.48 L629.97,333.74 L629.55,334.00 L629.13,334.26 L628.70,334.52 L628.28,334.77 L627.86,335.03 L627.43,335.29 L627.01,335.54 L626.59,335.80 L626.16,336.05 L625.74,336.30 L625.32,336.56 L624.89,336.81 L624.47,337.06 L624.05,337.31 L623.62,337.56 L623.20,337.81 L622.78,338.06 L622.36,338.31 L621.93,338.56 L621.51,338.81 L621.09,339.06 L620.66,339.31 L620.24,339.55 L619.82,339.80 L619.39,340.04 L618.97,340.29 L618.55,340.53 L618.12,340.78 L617.70,341.02 L617.28,341.26 L616.85,341.50 L616.43,341.75 L616.01,341.99 L615.58,342.23 L615.16,342.47 L614.74,342.70 L614.31,342.94 L613.89,343.18 L613.47,343.42 L613.04,343.65 L612.62,343.89 L612.20,344.13 L611.77,344.36 L611.35,344.60 L610.93,344.83 L610.50,345.06 L610.08,345.29 L609.66,345.53 L609.23,345.76 L608.81,345.99 L608.39,346.22 L607.96,346.45 L607.54,346.68 L607.12,346.90 L606.69,347.13 L606.27,347.36 L605.85,347.58 L605.42,347.81 L605.00,348.03 L604.58,348.26 L604.15,348.48 L603.73,348.70 L603.31,348.93 L602.88,349.15 L602.46,349.37 L602.04,349.59 L601.61,349.81 L601.19,350.03 L600.77,350.25 L600.34,350.46 L599.92,350.68 L599.50,350.90 L599.07,351.11 L598.65,351.33 L598.23,351.54 L597.80,351.75 L597.38,351.97 L596.96,352.18 L596.53,352.39 L596.11,352.60 L595.69,352.81 L595.26,353.02 L594.84,353.23 L594.42,353.44 L593.99,353.65 L593.57,353.85 L593.15,354.06 L592.72,354.26 L592.30,354.47 L591.88,354.67 L591.45,354.87 L591.03,355.08 L590.61,355.28 L590.18,355.48 L589.76,355.68 L589.34,355.88 L588.91,356.08 L588.49,356.28 L588.07,356.47 L587.64,356.67 L587.22,356.87 L586.80,357.06 L586.37,357.26 L585.95,357.45 L585.53,357.64 L585.10,357.83 L584.68,358.03 L584.26,358.22 L583.83,358.41 L583.41,358.60 L582.99,358.78 L582.56,358.97 L582.14,359.16 L581.72,359.35 L581.29,359.53 L580.87,359.72 L580.45,359.90 L580.02,360.08 Z" fill="#dedede"/>
<path d="M580.02,360.09 L580.45,359.91 L580.87,359.74 L581.29,359.56 L581.72,359.37 L582.14,359.19 L582.56,359.01 L582.99,358.83 L583.41,358.64 L583.83,358.46 L584.26,358.28 L584.68,358.09 L585.10,357.90 L585.53,357.72 L585.95,357.53 L586.37,357.34 L586.80,357.15 L587.22,356.96 L587.64,356.77 L588.07,356.58 L588.49,356.38 L588.91,356.19 L589.34,356.00 L589.76,355.80 L590.18,355.61 L590.61,355.41 L591.03,355.22 L591.45,355.02 L591.88,354.82 L592.30,354.62 L592.72,354.42 L593.15,354.22 L593.57,354.02 L593.99,353.82 L594.42,353.62 L594.84,353.41 L595.26,353.21 L595.69,353.01 L596.11,352.80 L596.53,352.60 L596.96,352.39 L597.38,352.18 L597.80,351.97 L598.23,351.77 L598.65,351.56 L599.07,351.35 L599.50,351.14 L599.92,350.93 L600.34,350.71 L600.77,350.50 L601.19,350.29 L601.61,350.07 L602.04,349.86 L602.46,349.64 L602.88,349.43 L603.31,349.21 L603.73,349.00 L604.15,348.78 L604.58,348.56 L605.00,348.34 L605.42,348.12 L605.85,347.90 L606.27,347.68 L606.69,347.46 L607.12,347.24 L607.54,347.01 L607.96,346.79 L608.39,346.57 L608.81,346.34 L609.23,346.12 L609.66,345.89 L610.08,345.66 L610.50,345.44 L610.93,345.21 L611.35,344.98 L611.77,344.75 L612.20,344.52 L612.62,344.29 L613.04,344.06 L613.47,343.83 L613.89,343.60 L614.31,343.36 L614.74,343.13 L615.16,342.90 L615.58,342.66 L616.01,342.43 L616.43,342.19 L616.85,341.96 L617.28,341.72 L617.70,341.48 L618.12,341.24 L618.55,341.01 L618.97,340.77 L619.39,340.53 L619.82,340.29 L620.24,340.05 L620.66,339.80 L621.09,339.56 L621.51,339.32 L621.93,339.08 L622.36,338.83 L622.78,338.59 L623.20,338.34 L623.62,338.10 L624.05,337.85 L624.47,337.61 L624.89,337.36 L625.32,337.11 L625.74,336.86 L626.16,336.62 L626.59,336.37 L627.01,336.12 L627.43,335.87 L627.86,335.62 L628.28,335.37 L628.70,335.11 L629.13,334.86 L629.55,334.61 L629.97,334.36 L630.40,334.10 L631.86,333.22 L633.33,332.33 L634.79,331.44 L636.25,330.54 L637.72,329.63 L639.18,328.72 L640.64,327.81 L642.11,326.89 L643.57,325.96 L645.03,325.03 L646.50,324.09 L647.96,323.14 L649.43,322.20 L650.89,321.24 L652.35,320.28 L653.82,319.32 L655.28,318.35 L656.74,317.38 L658.21,316.40 L659.67,315.42 L661.13,314.43 L662.60,313.44 L664.06,312.45 L665.53,311.45 L666.99,310.45 L668.45,309.44 L669.92,308.43 L671.38,307.41 L672.84,306.39 L674.31,305.37 L675.77,304.34 L677.24,303.31 L678.70,302.28 L680.16,301.24 L681.63,300.20 L683.09,299.16 L684.55,298.11 L686.02,297.06 L687.48,296.01 L688.94,294.95 L690.41,293.89 L691.87,292.83 L693.34,291.76 L694.80,290.69 L696.26,289.62 L697.73,288.55 L699.19,287.47 L700.65,286.39 L702.12,285.31 L703.58,284.23 L705.04,283.14 L706.51,282.05 L707.97,280.96 L709.44,279.87 L710.90,278.77 L712.36,277.67 L713.83,276.57 L715.29,275.47 L716.75,274.37 L718.22,273.26 L719.68,272.15 L721.14,271.04 L722.61,269.93 L724.07,268.82 L725.54,267.70 L727.00,266.58 L728.46,265.47 L729.93,264.35 L731.39,263.22 L732.85,262.10 L734.32,260.98 L735.78,259.85 L737.24,258.72 L738.71,257.59 L740.17,256.46 L741.64,255.33 L743.10,254.20 L744.56,253.07 L746.03,251.93 L747.49,250.80 L748.95,249.66 L750.42,248.52 L751.88,247.38 L753.35,246.24 L754.81,245.10 L756.27,243.96 L757.74,242.82 L759.20,241.67 L760.66,240.53 L762.13,239.39 L763.59,238.24 L765.05,237.09 L766.52,235.95 L767.98,234.80 L769.45,233.65 L770.91,232.50 L772.37,231.35 L773.84,230.20 L775.30,229.05 L776.76,227.90 L778.23,226.75 L779.69,225.59 L781.15,224.44 L782.62,223.29 L784.08,222.14 L785.55,220.98 L787.01,219.83 L788.47,218.67 L789.94,217.52 L791.40,216.36 L792.86,215.21 L794.33,214.05 L795.79,212.90 L797.25,211.74 L798.72,210.59 L800.18,209.43 L801.65,208.27 L803.11,207.12 L804.57,205.96 L806.04,204.81 L807.50,203.65 L808.96,202.49 L810.43,201.34 L811.89,200.18 L813.36,199.02 L814.82,197.87 L816.28,196.71 L817.75,195.55 L819.21,194.40 L820.67,193.24 L822.14,192.09 L823.60,190.93 L825.06,189.78 L826.53,188.62 L827.99,187.46 L829.46,186.31 L830.92,185.15 L832.38,184.00 L833.85,182.84 L835.31,181.69 L836.77,180.54 L838.24,179.38 L839.70,178.23 L841.16,177.08 L842.63,175.92 L844.09,174.77 L845.56,173.62 L847.02,172.47 L848.48,171.31 L849.95,170.16 L851.41,169.01 L852.87,167.86 L854.34,166.71 L855.80,165.56 L857.26,164.41 L858.73,163.26 L860.19,162.12 L861.66,160.97 L863.12,159.82 L864.58,158.67 L866.05,157.53 L867.51,156.38 L868.97,155.23 L870.44,154.09 L871.90,152.94 L873.37,151.80 L874.83,150.66 L876.29,149.51 L877.76,148.37 L879.22,147.23 L880.68,146.09 L882.15,144.94 L883.61,143.80 L885.07,142.66 L886.54,141.52 L888.00,140.38 L889.47,139.25 L890.93,138.11 L892.39,136.97 L893.86,135.83 L895.32,134.70 L896.78,133.56 L898.25,132.43 L899.71,131.29 L901.17,130.16 L902.64,129.03 L904.10,127.89 L905.57,126.76 L907.03,125.63 L908.49,124.50 L909.96,123.37 L911.42,122.24 L912.88,121.11 L914.35,119.98 L915.81,118.86 L917.27,117.73 L918.74,116.60 L920.20,115.48 L921.67,114.35 L923.13,113.23 L924.59,112.10 L926.06,110.98 L927.52,109.86 L928.98,108.74 L930.45,107.62 L931.91,106.50 L933.38,105.38 L934.84,104.26 L936.30,103.14 L937.77,102.02 L939.23,100.91 L940.69,99.79 L942.16,98.68 L943.62,97.56 L945.08,96.45 L946.55,95.34 L948.01,94.22 L949.48,93.11 L950.94,92.00 L952.40,90.89 L953.87,89.78 L955.33,88.67 L956.79,87.57 L958.26,86.46 L959.72,85.35 L961.18,84.25 L962.65,83.14 L964.11,82.04 L965.58,80.93 L967.04,79.83 L968.50,78.73 L969.97,77.63 L971.43,76.53 L972.89,75.43 L974.36,74.33 L975.82,73.23 L977.28,72.13 L978.75,71.04 L980.21,69.94 L981.68,68.84 L983.14,67.75 L984.60,66.66 L986.07,65.56 L987.53,64.47 L988.99,63.38 L990.46,62.29 L991.92,61.20 L993.38,60.11 L994.85,59.02 L996.31,57.93 L997.78,56.85 L999.24,55.76 L1000.70,54.68 L1002.17,53.59 L1003.63,52.51 L1005.09,51.42 L1006.56,50.34 L1008.02,49.26 L1009.49,48.18" fill="none" stroke="#2a2a2a" stroke-width="1.39" stroke-dasharray="5.14 2.22"/>
<path d="M580.02,360.11 L580.45,359.94 L580.87,359.77 L581.29,359.60 L581.72,359.43 L582.14,359.26 L582.56,359.09 L582.99,358.92 L583.41,358.74 L583.83,358.57 L584.26,358.39 L584.68,358.22 L585.10,358.04 L585.53,357.86 L585.95,357.69 L586.37,357.51 L586.80,357.33 L587.22,357.15 L587.64,356.97 L588.07,356.79 L588.49,356.60 L588.91,356.42 L589.34,356.24 L589.76,356.05 L590.18,355.87 L590.61,355.68 L591.03,355.50 L591.45,355.31 L591.88,355.12 L592.30,354.93 L592.72,354.74 L593.15,354.55 L593.57,354.36 L593.99,354.17 L594.42,353.98 L594.84,353.79 L595.26,353.59 L595.69,353.40 L596.11,353.21 L596.53,353.01 L596.96,352.81 L597.38,352.62 L597.80,352.42 L598.23,352.22 L598.65,352.02 L599.07,351.82 L599.50,351.62 L599.92,351.42 L600.34,351.22 L600.77,351.02 L601.19,350.82 L601.61,350.61 L602.04,350.41 L602.46,350.21 L602.88,350.00 L603.31,349.80 L603.73,349.59 L604.15,349.38 L604.58,349.17 L605.00,348.97 L605.42,348.76 L605.85,348.55 L606.27,348.34 L606.69,348.13 L607.12,347.91 L607.54,347.70 L607.96,347.49 L608.39,347.28 L608.81,347.06 L609.23,346.85 L609.66,346.63 L610.08,346.42 L610.50,346.20 L610.93,345.98 L611.35,345.76 L611.77,345.55 L612.20,345.33 L612.62,345.11 L613.04,344.89 L613.47,344.67 L613.89,344.44 L614.31,344.22 L614.74,344.00 L615.16,343.78 L615.58,343.55 L616.01,343.33 L616.43,343.10 L616.85,342.88 L617.28,342.65 L617.70,342.43 L618.12,342.20 L618.55,341.97 L618.97,341.74 L619.39,341.51 L619.82,341.28 L620.24,341.05 L620.66,340.82 L621.09,340.59 L621.51,340.36 L621.93,340.13 L622.36,339.89 L622.78,339.66 L623.20,339.43 L623.62,339.19 L624.05,338.96 L624.47,338.72 L624.89,338.48 L625.32,338.25 L625.74,338.01 L626.16,337.77 L626.59,337.53 L627.01,337.30 L627.43,337.06 L627.86,336.82 L628.28,336.58 L628.70,336.33 L629.13,336.09 L629.55,335.85 L629.97,335.61 L630.40,335.36 L631.86,334.52 L633.33,333.67 L634.79,332.81 L636.25,331.95 L637.72,331.08 L639.18,330.21 L640.64,329.33 L642.11,328.44 L643.57,327.55 L645.03,326.65 L646.50,325.75 L647.96,324.84 L649.43,323.93 L650.89,323.01 L652.35,322.09 L653.82,321.16 L655.28,320.23 L656.74,319.29 L658.21,318.35 L659.67,317.40 L661.13,316.45 L662.60,315.49 L664.06,314.53 L665.53,313.57 L666.99,312.60 L668.45,311.62 L669.92,310.64 L671.38,309.66 L672.84,308.68 L674.31,307.69 L675.77,306.69 L677.24,305.70 L678.70,304.70 L680.16,303.69 L681.63,302.68 L683.09,301.67 L684.55,300.65 L686.02,299.64 L687.48,298.61 L688.94,297.59 L690.41,296.56 L691.87,295.53 L693.34,294.49 L694.80,293.46 L696.26,292.42 L697.73,291.37 L699.19,290.33 L700.65,289.28 L702.12,288.22 L703.58,287.17 L705.04,286.11 L706.51,285.05 L707.97,283.99 L709.44,282.93 L710.90,281.86 L712.36,280.79 L713.83,279.72 L715.29,278.64 L716.75,277.57 L718.22,276.49 L719.68,275.41 L721.14,274.33 L722.61,273.24 L724.07,272.16 L725.54,271.07 L727.00,269.98 L728.46,268.89 L729.93,267.79 L731.39,266.70 L732.85,265.60 L734.32,264.50 L735.78,263.40 L737.24,262.30 L738.71,261.20 L740.17,260.09 L741.64,258.99 L743.10,257.88 L744.56,256.77 L746.03,255.66 L747.49,254.55 L748.95,253.44 L750.42,252.32 L751.88,251.21 L753.35,250.09 L754.81,248.97 L756.27,247.86 L757.74,246.74 L759.20,245.62 L760.66,244.49 L762.13,243.37 L763.59,242.25 L765.05,241.13 L766.52,240.00 L767.98,238.88 L769.45,237.75 L770.91,236.62 L772.37,235.49 L773.84,234.37 L775.30,233.24 L776.76,232.11 L778.23,230.98 L779.69,229.84 L781.15,228.71 L782.62,227.58 L784.08,226.45 L785.55,225.31 L787.01,224.18 L788.47,223.05 L789.94,221.91 L791.40,220.78 L792.86,219.64 L794.33,218.51 L795.79,217.37 L797.25,216.23 L798.72,215.10 L800.18,213.96 L801.65,212.82 L803.11,211.69 L804.57,210.55 L806.04,209.41 L807.50,208.27 L808.96,207.14 L810.43,206.00 L811.89,204.86 L813.36,203.72 L814.82,202.58 L816.28,201.45 L817.75,200.31 L819.21,199.17 L820.67,198.03 L822.14,196.89 L823.60,195.75 L825.06,194.61 L826.53,193.48 L827.99,192.34 L829.46,191.20 L830.92,190.06 L832.38,188.92 L833.85,187.79 L835.31,186.65 L836.77,185.51 L838.24,184.37 L839.70,183.24 L841.16,182.10 L842.63,180.96 L844.09,179.82 L845.56,178.69 L847.02,177.55 L848.48,176.42 L849.95,175.28 L851.41,174.15 L852.87,173.01 L854.34,171.88 L855.80,170.74 L857.26,169.61 L858.73,168.47 L860.19,167.34 L861.66,166.21 L863.12,165.07 L864.58,163.94 L866.05,162.81 L867.51,161.68 L868.97,160.54 L870.44,159.41 L871.90,158.28 L873.37,157.15 L874.83,156.02 L876.29,154.89 L877.76,153.76 L879.22,152.64 L880.68,151.51 L882.15,150.38 L883.61,149.25 L885.07,148.13 L886.54,147.00 L888.00,145.87 L889.47,144.75 L890.93,143.62 L892.39,142.50 L893.86,141.38 L895.32,140.25 L896.78,139.13 L898.25,138.01 L899.71,136.89 L901.17,135.77 L902.64,134.65 L904.10,133.53 L905.57,132.41 L907.03,131.29 L908.49,130.17 L909.96,129.05 L911.42,127.93 L912.88,126.82 L914.35,125.70 L915.81,124.59 L917.27,123.47 L918.74,122.36 L920.20,121.24 L921.67,120.13 L923.13,119.02 L924.59,117.91 L926.06,116.80 L927.52,115.69 L928.98,114.58 L930.45,113.47 L931.91,112.36 L933.38,111.25 L934.84,110.14 L936.30,109.04 L937.77,107.93 L939.23,106.83 L940.69,105.72 L942.16,104.62 L943.62,103.51 L945.08,102.41 L946.55,101.31 L948.01,100.21 L949.48,99.11 L950.94,98.01 L952.40,96.91 L953.87,95.81 L955.33,94.71 L956.79,93.61 L958.26,92.52 L959.72,91.42 L961.18,90.33 L962.65,89.23 L964.11,88.14 L965.58,87.04 L967.04,85.95 L968.50,84.86 L969.97,83.77 L971.43,82.68 L972.89,81.59 L974.36,80.50 L975.82,79.41 L977.28,78.32 L978.75,77.24 L980.21,76.15 L981.68,75.07 L983.14,73.98 L984.60,72.90 L986.07,71.81 L987.53,70.73 L988.99,69.65 L990.46,68.57 L991.92,67.49 L993.38,66.41 L994.85,65.33 L996.31,64.25 L997.78,63.17 L999.24,62.10 L1000.70,61.02 L1002.17,59.95 L1003.63,58.87 L1005.09,57.80 L1006.56,56.73 L1008.02,55.65 L1009.49,54.58" fill="none" stroke="#2a2a2a" stroke-width="1.39"/>
<line x1="666.26" y1="291.20" x2="666.26" y2="263.82" stroke="#ffa500" stroke-width="2.78"/><circle cx="666.26" cy="277.51" r="4.75" fill="#ffa500"/>
<line x1="699.73" y1="318.20" x2="699.73" y2="287.21" stroke="#ff4500" stroke-width="2.78"/><circle cx="699.73" cy="302.70" r="4.75" fill="#ff4500"/>
<line x1="737.98" y1="278.42" x2="737.98" y2="256.74" stroke="#6a5acd" stroke-width="2.78"/><circle cx="737.98" cy="267.58" r="4.75" fill="#6a5acd"/>
<line x1="804.06" y1="222.16" x2="804.06" y2="178.53" stroke="#4682b4" stroke-width="2.78"/><circle cx="804.06" cy="200.34" r="4.75" fill="#4682b4"/>
<line x1="977.04" y1="79.27" x2="977.04" y2="33.63" stroke="#800080" stroke-width="2.78"/><circle cx="977.04" cy="56.45" r="4.75" fill="#800080"/>
</g>
<g clip-path="url(#cBR)">
<path d="M580.02,507.58 L580.45,507.56 L580.87,507.55 L581.29,507.54 L581.72,507.53 L582.14,507.51 L582.56,507.50 L582.99,507.49 L583.41,507.48 L583.83,507.46 L584.26,507.45 L584.68,507.44 L585.10,507.43 L585.53,507.41 L585.95,507.40 L586.37,507.39 L586.80,507.38 L587.22,507.36 L587.64,507.35 L588.07,507.34 L588.49,507.33 L588.91,507.31 L589.34,507.30 L589.76,507.29 L590.18,507.28 L590.61,507.26 L591.03,507.25 L591.45,507.24 L591.88,507.23 L592.30,507.21 L592.72,507.20 L593.15,507.19 L593.57,507.18 L593.99,507.16 L594.42,507.15 L594.84,507.14 L595.26,507.13 L595.69,507.11 L596.11,507.10 L596.53,507.09 L596.96,507.08 L597.38,507.06 L597.80,507.05 L598.23,507.04 L598.65,507.03 L599.07,507.01 L599.50,507.00 L599.92,506.99 L600.34,506.98 L600.77,506.96 L601.19,506.95 L601.61,506.94 L602.04,506.93 L602.46,506.91 L602.88,506.90 L603.31,506.89 L603.73,506.88 L604.15,506.86 L604.58,506.85 L605.00,506.84 L605.42,506.83 L605.85,506.81 L606.27,506.80 L606.69,506.79 L607.12,506.78 L607.54,506.77 L607.96,506.75 L608.39,506.74 L608.81,506.73 L609.23,506.72 L609.66,506.70 L610.08,506.69 L610.50,506.68 L610.93,506.67 L611.35,506.65 L611.77,506.64 L612.20,506.63 L612.62,506.62 L613.04,506.61 L613.47,506.59 L613.89,506.58 L614.31,506.57 L614.74,506.56 L615.16,506.54 L615.58,506.53 L616.01,506.52 L616.43,506.51 L616.85,506.50 L617.28,506.48 L617.70,506.47 L618.12,506.46 L618.55,506.45 L618.97,506.44 L619.39,506.42 L619.82,506.41 L620.24,506.40 L620.66,506.39 L621.09,506.38 L621.51,506.37 L621.93,506.35 L622.36,506.34 L622.78,506.33 L623.20,506.32 L623.62,506.31 L624.05,506.29 L624.47,506.28 L624.89,506.27 L625.32,506.26 L625.74,506.25 L626.16,506.24 L626.59,506.22 L627.01,506.21 L627.43,506.20 L627.86,506.19 L628.28,506.18 L628.70,506.17 L629.13,506.16 L629.55,506.14 L629.97,506.13 L630.40,506.12 L631.86,506.08 L633.33,506.04 L634.79,506.00 L636.25,505.97 L637.72,505.93 L639.18,505.89 L640.64,505.85 L642.11,505.82 L643.57,505.78 L645.03,505.74 L646.50,505.71 L647.96,505.67 L649.43,505.63 L650.89,505.60 L652.35,505.56 L653.82,505.53 L655.28,505.50 L656.74,505.46 L658.21,505.43 L659.67,505.40 L661.13,505.36 L662.60,505.33 L664.06,505.30 L665.53,505.27 L666.99,505.24 L668.45,505.20 L669.92,505.17 L671.38,505.14 L672.84,505.11 L674.31,505.08 L675.77,505.06 L677.24,505.03 L678.70,505.00 L680.16,504.97 L681.63,504.94 L683.09,504.92 L684.55,504.89 L686.02,504.86 L687.48,504.84 L688.94,504.81 L690.41,504.78 L691.87,504.76 L693.34,504.73 L694.80,504.71 L696.26,504.69 L697.73,504.66 L699.19,504.64 L700.65,504.61 L702.12,504.59 L703.58,504.57 L705.04,504.55 L706.51,504.53 L707.97,504.50 L709.44,504.48 L710.90,504.46 L712.36,504.44 L713.83,504.42 L715.29,504.40 L716.75,504.38 L718.22,504.36 L719.68,504.34 L721.14,504.32 L722.61,504.31 L724.07,504.29 L725.54,504.27 L727.00,504.25 L728.46,504.23 L729.93,504.22 L731.39,504.20 L732.85,504.18 L734.32,504.17 L735.78,504.15 L737.24,504.14 L738.71,504.12 L740.17,504.11 L741.64,504.09 L743.10,504.08 L744.56,504.06 L746.03,504.05 L747.49,504.03 L748.95,504.02 L750.42,504.01 L751.88,503.99 L753.35,503.98 L754.81,503.97 L756.27,503.95 L757.74,503.94 L759.20,503.93 L760.66,503.92 L762.13,503.91 L763.59,503.90 L765.05,503.88 L766.52,503.87 L767.98,503.86 L769.45,503.85 L770.91,503.84 L772.37,503.83 L773.84,503.82 L775.30,503.81 L776.76,503.80 L778.23,503.79 L779.69,503.78 L781.15,503.77 L782.62,503.76 L784.08,503.76 L785.55,503.75 L787.01,503.74 L788.47,503.73 L789.94,503.72 L791.40,503.71 L792.86,503.71 L794.33,503.70 L795.79,503.69 L797.25,503.68 L798.72,503.68 L800.18,503.67 L801.65,503.66 L803.11,503.66 L804.57,503.65 L806.04,503.64 L807.50,503.64 L808.96,503.63 L810.43,503.62 L811.89,503.62 L813.36,503.61 L814.82,503.61 L816.28,503.60 L817.75,503.60 L819.21,503.59 L820.67,503.59 L822.14,503.58 L823.60,503.58 L825.06,503.57 L826.53,503.57 L827.99,503.56 L829.46,503.56 L830.92,503.55 L832.38,503.55 L833.85,503.54 L835.31,503.54 L836.77,503.54 L838.24,503.53 L839.70,503.53 L841.16,503.52 L842.63,503.52 L844.09,503.52 L845.56,503.51 L847.02,503.51 L848.48,503.51 L849.95,503.50 L851.41,503.50 L852.87,503.50 L854.34,503.50 L855.80,503.49 L857.26,503.49 L858.73,503.49 L860.19,503.49 L861.66,503.48 L863.12,503.48 L864.58,503.48 L866.05,503.48 L867.51,503.47 L868.97,503.47 L870.44,503.47 L871.90,503.47 L873.37,503.47 L874.83,503.46 L876.29,503.46 L877.76,503.46 L879.22,503.46 L880.68,503.46 L882.15,503.46 L883.61,503.45 L885.07,503.45 L886.54,503.45 L888.00,503.45 L889.47,503.45 L890.93,503.45 L892.39,503.45 L893.86,503.45 L895.32,503.45 L896.78,503.44 L898.25,503.44 L899.71,503.44 L901.17,503.44 L902.64,503.44 L904.10,503.44 L905.57,503.44 L907.03,503.44 L908.49,503.44 L909.96,503.44 L911.42,503.44 L912.88,503.44 L914.35,503.44 L915.81,503.44 L917.27,503.44 L918.74,503.44 L920.20,503.44 L921.67,503.44 L923.13,503.44 L924.59,503.44 L926.06,503.44 L927.52,503.44 L928.98,503.44 L930.45,503.44 L931.91,503.44 L933.38,503.44 L934.84,503.44 L936.30,503.44 L937.77,503.44 L939.23,503.44 L940.69,503.44 L942.16,503.44 L943.62,503.44 L945.08,503.44 L946.55,503.44 L948.01,503.44 L949.48,503.44 L950.94,503.44 L952.40,503.44 L953.87,503.44 L955.33,503.44 L956.79,503.44 L958.26,503.44 L959.72,503.44 L961.18,503.44 L962.65,503.44 L964.11,503.45 L965.58,503.45 L967.04,503.45 L968.50,503.45 L969.97,503.45 L971.43,503.45 L972.89,503.45 L974.36,503.45 L975.82,503.45 L977.28,503.45 L978.75,503.45 L980.21,503.45 L981.68,503.46 L983.14,503.46 L984.60,503.46 L986.07,503.46 L987.53,503.46 L988.99,503.46 L990.46,503.46 L991.92,503.46 L993.38,503.46 L994.85,503.47 L996.31,503.47 L997.78,503.47 L999.24,503.47 L1000.70,503.47 L1002.17,503.47 L1003.63,503.47 L1005.09,503.47 L1006.56,503.47 L1008.02,503.48 L1009.49,503.48 L1009.49,495.89 L1008.02,495.89 L1006.56,495.88 L1005.09,495.88 L1003.63,495.87 L1002.17,495.87 L1000.70,495.87 L999.24,495.86 L997.78,495.86 L996.31,495.86 L994.85,495.85 L993.38,495.85 L991.92,495.85 L990.46,495.84 L988.99,495.84 L987.53,495.84 L986.07,495.83 L984.60,495.83 L983.14,495.83 L981.68,495.82 L980.21,495.82 L978.75,495.82 L977.28,495.81 L975.82,495.81 L974.36,495.81 L972.89,495.80 L971.43,495.80 L969.97,495.80 L968.50,495.80 L967.04,495.79 L965.58,495.79 L964.11,495.79 L962.65,495.79 L961.18,495.78 L959.72,495.78 L958.26,495.78 L956.79,495.78 L955.33,495.78 L953.87,495.77 L952.40,495.77 L950.94,495.77 L949.48,495.77 L948.01,495.77 L946.55,495.76 L945.08,495.76 L943.62,495.76 L942.16,495.76 L940.69,495.76 L939.23,495.76 L937.77,495.76 L936.30,495.75 L934.84,495.75 L933.38,495.75 L931.91,495.75 L930.45,495.75 L928.98,495.75 L927.52,495.75 L926.06,495.75 L924.59,495.75 L923.13,495.75 L921.67,495.75 L920.20,495.75 L918.74,495.75 L917.27,495.75 L915.81,495.75 L914.35,495.75 L912.88,495.75 L911.42,495.75 L909.96,495.75 L908.49,495.75 L907.03,495.75 L905.57,495.76 L904.10,495.76 L902.64,495.76 L901.17,495.76 L899.71,495.76 L898.25,495.76 L896.78,495.77 L895.32,495.77 L893.86,495.77 L892.39,495.77 L890.93,495.77 L889.47,495.78 L888.00,495.78 L886.54,495.78 L885.07,495.79 L883.61,495.79 L882.15,495.79 L880.68,495.80 L879.22,495.80 L877.76,495.80 L876.29,495.81 L874.83,495.81 L873.37,495.82 L871.90,495.82 L870.44,495.83 L868.97,495.83 L867.51,495.84 L866.05,495.84 L864.58,495.85 L863.12,495.85 L861.66,495.86 L860.19,495.87 L858.73,495.87 L857.26,495.88 L855.80,495.89 L854.34,495.89 L852.87,495.90 L851.41,495.91 L849.95,495.92 L848.48,495.93 L847.02,495.93 L845.56,495.94 L844.09,495.95 L842.63,495.96 L841.16,495.97 L839.70,495.98 L838.24,495.99 L836.77,496.00 L835.31,496.01 L833.85,496.02 L832.38,496.03 L830.92,496.04 L829.46,496.06 L827.99,496.07 L826.53,496.08 L825.06,496.09 L823.60,496.11 L822.14,496.12 L820.67,496.13 L819.21,496.15 L817.75,496.16 L816.28,496.18 L814.82,496.19 L813.36,496.21 L811.89,496.22 L810.43,496.24 L808.96,496.25 L807.50,496.27 L806.04,496.29 L804.57,496.30 L803.11,496.32 L801.65,496.34 L800.18,496.36 L798.72,496.38 L797.25,496.40 L795.79,496.42 L794.33,496.44 L792.86,496.46 L791.40,496.48 L789.94,496.50 L788.47,496.52 L787.01,496.55 L785.55,496.57 L784.08,496.59 L782.62,496.62 L781.15,496.64 L779.69,496.67 L778.23,496.69 L776.76,496.72 L775.30,496.75 L773.84,496.77 L772.37,496.80 L770.91,496.83 L769.45,496.86 L767.98,496.89 L766.52,496.92 L765.05,496.95 L763.59,496.98 L762.13,497.01 L760.66,497.04 L759.20,497.08 L757.74,497.11 L756.27,497.14 L754.81,497.18 L753.35,497.21 L751.88,497.25 L750.42,497.29 L748.95,497.32 L747.49,497.36 L746.03,497.40 L744.56,497.44 L743.10,497.48 L741.64,497.52 L740.17,497.56 L738.71,497.60 L737.24,497.65 L735.78,497.69 L734.32,497.74 L732.85,497.78 L731.39,497.83 L729.93,497.87 L728.46,497.92 L727.00,497.97 L725.54,498.02 L724.07,498.07 L722.61,498.12 L721.14,498.17 L719.68,498.22 L718.22,498.28 L716.75,498.33 L715.29,498.39 L713.83,498.44 L712.36,498.50 L710.90,498.56 L709.44,498.62 L707.97,498.68 L706.51,498.74 L705.04,498.80 L703.58,498.86 L702.12,498.93 L700.65,498.99 L699.19,499.05 L697.73,499.12 L696.26,499.19 L694.80,499.26 L693.34,499.33 L691.87,499.40 L690.41,499.47 L688.94,499.54 L687.48,499.61 L686.02,499.69 L684.55,499.76 L683.09,499.84 L681.63,499.92 L680.16,500.00 L678.70,500.08 L677.24,500.16 L675.77,500.24 L674.31,500.32 L672.84,500.40 L671.38,500.49 L669.92,500.57 L668.45,500.66 L666.99,500.75 L665.53,500.84 L664.06,500.93 L662.60,501.02 L661.13,501.11 L659.67,501.21 L658.21,501.30 L656.74,501.40 L655.28,501.49 L653.82,501.59 L652.35,501.69 L650.89,501.79 L649.43,501.89 L647.96,501.99 L646.50,502.09 L645.03,502.20 L643.57,502.30 L642.11,502.41 L640.64,502.52 L639.18,502.62 L637.72,502.73 L636.25,502.84 L634.79,502.95 L633.33,503.06 L631.86,503.18 L630.40,503.29 L629.97,503.32 L629.55,503.36 L629.13,503.39 L628.70,503.42 L628.28,503.45 L627.86,503.49 L627.43,503.52 L627.01,503.55 L626.59,503.59 L626.16,503.62 L625.74,503.66 L625.32,503.69 L624.89,503.72 L624.47,503.76 L624.05,503.79 L623.62,503.82 L623.20,503.86 L622.78,503.89 L622.36,503.93 L621.93,503.96 L621.51,504.00 L621.09,504.03 L620.66,504.06 L620.24,504.10 L619.82,504.13 L619.39,504.17 L618.97,504.20 L618.55,504.24 L618.12,504.27 L617.70,504.31 L617.28,504.34 L616.85,504.38 L616.43,504.41 L616.01,504.45 L615.58,504.48 L615.16,504.52 L614.74,504.55 L614.31,504.59 L613.89,504.62 L613.47,504.66 L613.04,504.69 L612.62,504.73 L612.20,504.76 L611.77,504.80 L611.35,504.83 L610.93,504.87 L610.50,504.91 L610.08,504.94 L609.66,504.98 L609.23,505.01 L608.81,505.05 L608.39,505.08 L607.96,505.12 L607.54,505.16 L607.12,505.19 L606.69,505.23 L606.27,505.26 L605.85,505.30 L605.42,505.34 L605.00,505.37 L604.58,505.41 L604.15,505.44 L603.73,505.48 L603.31,505.52 L602.88,505.55 L602.46,505.59 L602.04,505.63 L601.61,505.66 L601.19,505.70 L600.77,505.74 L600.34,505.77 L599.92,505.81 L599.50,505.84 L599.07,505.88 L598.65,505.92 L598.23,505.95 L597.80,505.99 L597.38,506.03 L596.96,506.06 L596.53,506.10 L596.11,506.14 L595.69,506.17 L595.26,506.21 L594.84,506.25 L594.42,506.28 L593.99,506.32 L593.57,506.36 L593.15,506.39 L592.72,506.43 L592.30,506.47 L591.88,506.50 L591.45,506.54 L591.03,506.58 L590.61,506.61 L590.18,506.65 L589.76,506.69 L589.34,506.72 L588.91,506.76 L588.49,506.80 L588.07,506.83 L587.64,506.87 L587.22,506.91 L586.80,506.94 L586.37,506.98 L585.95,507.02 L585.53,507.05 L585.10,507.09 L584.68,507.13 L584.26,507.16 L583.83,507.20 L583.41,507.24 L582.99,507.27 L582.56,507.31 L582.14,507.35 L581.72,507.38 L581.29,507.42 L580.87,507.45 L580.45,507.49 L580.02,507.53 Z" fill="#dedede"/>
<path d="M580.02,507.55 L580.45,507.53 L580.87,507.50 L581.29,507.48 L581.72,507.45 L582.14,507.43 L582.56,507.40 L582.99,507.38 L583.41,507.36 L583.83,507.33 L584.26,507.31 L584.68,507.28 L585.10,507.26 L585.53,507.23 L585.95,507.21 L586.37,507.18 L586.80,507.16 L587.22,507.14 L587.64,507.11 L588.07,507.09 L588.49,507.06 L588.91,507.04 L589.34,507.01 L589.76,506.99 L590.18,506.96 L590.61,506.94 L591.03,506.91 L591.45,506.89 L591.88,506.87 L592.30,506.84 L592.72,506.82 L593.15,506.79 L593.57,506.77 L593.99,506.74 L594.42,506.72 L594.84,506.69 L595.26,506.67 L595.69,506.64 L596.11,506.62 L596.53,506.59 L596.96,506.57 L597.38,506.55 L597.80,506.52 L598.23,506.50 L598.65,506.47 L599.07,506.45 L599.50,506.42 L599.92,506.40 L600.34,506.37 L600.77,506.35 L601.19,506.33 L601.61,506.30 L602.04,506.28 L602.46,506.25 L602.88,506.23 L603.31,506.20 L603.73,506.18 L604.15,506.15 L604.58,506.13 L605.00,506.11 L605.42,506.08 L605.85,506.06 L606.27,506.03 L606.69,506.01 L607.12,505.98 L607.54,505.96 L607.96,505.94 L608.39,505.91 L608.81,505.89 L609.23,505.86 L609.66,505.84 L610.08,505.82 L610.50,505.79 L610.93,505.77 L611.35,505.74 L611.77,505.72 L612.20,505.70 L612.62,505.67 L613.04,505.65 L613.47,505.63 L613.89,505.60 L614.31,505.58 L614.74,505.55 L615.16,505.53 L615.58,505.51 L616.01,505.48 L616.43,505.46 L616.85,505.44 L617.28,505.41 L617.70,505.39 L618.12,505.37 L618.55,505.34 L618.97,505.32 L619.39,505.30 L619.82,505.27 L620.24,505.25 L620.66,505.23 L621.09,505.20 L621.51,505.18 L621.93,505.16 L622.36,505.13 L622.78,505.11 L623.20,505.09 L623.62,505.07 L624.05,505.04 L624.47,505.02 L624.89,505.00 L625.32,504.97 L625.74,504.95 L626.16,504.93 L626.59,504.91 L627.01,504.88 L627.43,504.86 L627.86,504.84 L628.28,504.82 L628.70,504.79 L629.13,504.77 L629.55,504.75 L629.97,504.73 L630.40,504.71 L631.86,504.63 L633.33,504.55 L634.79,504.48 L636.25,504.40 L637.72,504.33 L639.18,504.26 L640.64,504.18 L642.11,504.11 L643.57,504.04 L645.03,503.97 L646.50,503.90 L647.96,503.83 L649.43,503.76 L650.89,503.69 L652.35,503.63 L653.82,503.56 L655.28,503.49 L656.74,503.43 L658.21,503.36 L659.67,503.30 L661.13,503.24 L662.60,503.18 L664.06,503.11 L665.53,503.05 L666.99,502.99 L668.45,502.93 L669.92,502.87 L671.38,502.82 L672.84,502.76 L674.31,502.70 L675.77,502.65 L677.24,502.59 L678.70,502.54 L680.16,502.48 L681.63,502.43 L683.09,502.38 L684.55,502.33 L686.02,502.27 L687.48,502.22 L688.94,502.17 L690.41,502.13 L691.87,502.08 L693.34,502.03 L694.80,501.98 L696.26,501.94 L697.73,501.89 L699.19,501.85 L700.65,501.80 L702.12,501.76 L703.58,501.72 L705.04,501.67 L706.51,501.63 L707.97,501.59 L709.44,501.55 L710.90,501.51 L712.36,501.47 L713.83,501.43 L715.29,501.39 L716.75,501.36 L718.22,501.32 L719.68,501.28 L721.14,501.25 L722.61,501.21 L724.07,501.18 L725.54,501.14 L727.00,501.11 L728.46,501.08 L729.93,501.05 L731.39,501.01 L732.85,500.98 L734.32,500.95 L735.78,500.92 L737.24,500.89 L738.71,500.86 L740.17,500.83 L741.64,500.81 L743.10,500.78 L744.56,500.75 L746.03,500.72 L747.49,500.70 L748.95,500.67 L750.42,500.65 L751.88,500.62 L753.35,500.60 L754.81,500.57 L756.27,500.55 L757.74,500.53 L759.20,500.50 L760.66,500.48 L762.13,500.46 L763.59,500.44 L765.05,500.42 L766.52,500.40 L767.98,500.37 L769.45,500.35 L770.91,500.34 L772.37,500.32 L773.84,500.30 L775.30,500.28 L776.76,500.26 L778.23,500.24 L779.69,500.23 L781.15,500.21 L782.62,500.19 L784.08,500.17 L785.55,500.16 L787.01,500.14 L788.47,500.13 L789.94,500.11 L791.40,500.10 L792.86,500.08 L794.33,500.07 L795.79,500.05 L797.25,500.04 L798.72,500.03 L800.18,500.01 L801.65,500.00 L803.11,499.99 L804.57,499.98 L806.04,499.97 L807.50,499.95 L808.96,499.94 L810.43,499.93 L811.89,499.92 L813.36,499.91 L814.82,499.90 L816.28,499.89 L817.75,499.88 L819.21,499.87 L820.67,499.86 L822.14,499.85 L823.60,499.84 L825.06,499.83 L826.53,499.82 L827.99,499.81 L829.46,499.81 L830.92,499.80 L832.38,499.79 L833.85,499.78 L835.31,499.78 L836.77,499.77 L838.24,499.76 L839.70,499.75 L841.16,499.75 L842.63,499.74 L844.09,499.73 L845.56,499.73 L847.02,499.72 L848.48,499.72 L849.95,499.71 L851.41,499.71 L852.87,499.70 L854.34,499.70 L855.80,499.69 L857.26,499.69 L858.73,499.68 L860.19,499.68 L861.66,499.67 L863.12,499.67 L864.58,499.66 L866.05,499.66 L867.51,499.66 L868.97,499.65 L870.44,499.65 L871.90,499.65 L873.37,499.64 L874.83,499.64 L876.29,499.64 L877.76,499.63 L879.22,499.63 L880.68,499.63 L882.15,499.62 L883.61,499.62 L885.07,499.62 L886.54,499.62 L888.00,499.62 L889.47,499.61 L890.93,499.61 L892.39,499.61 L893.86,499.61 L895.32,499.61 L896.78,499.60 L898.25,499.60 L899.71,499.60 L901.17,499.60 L902.64,499.60 L904.10,499.60 L905.57,499.60 L907.03,499.60 L908.49,499.60 L909.96,499.60 L911.42,499.59 L912.88,499.59 L914.35,499.59 L915.81,499.59 L917.27,499.59 L918.74,499.59 L920.20,499.59 L921.67,499.59 L923.13,499.59 L924.59,499.59 L926.06,499.59 L927.52,499.59 L928.98,499.59 L930.45,499.59 L931.91,499.59 L933.38,499.59 L934.84,499.59 L936.30,499.60 L937.77,499.60 L939.23,499.60 L940.69,499.60 L942.16,499.60 L943.62,499.60 L945.08,499.60 L946.55,499.60 L948.01,499.60 L949.48,499.60 L950.94,499.60 L952.40,499.61 L953.87,499.61 L955.33,499.61 L956.79,499.61 L958.26,499.61 L959.72,499.61 L961.18,499.61 L962.65,499.62 L964.11,499.62 L965.58,499.62 L967.04,499.62 L968.50,499.62 L969.97,499.62 L971.43,499.63 L972.89,499.63 L974.36,499.63 L975.82,499.63 L977.28,499.63 L978.75,499.64 L980.21,499.64 L981.68,499.64 L983.14,499.64 L984.60,499.64 L986.07,499.65 L987.53,499.65 L988.99,499.65 L990.46,499.65 L991.92,499.65 L993.38,499.66 L994.85,499.66 L996.31,499.66 L997.78,499.66 L999.24,499.67 L1000.70,499.67 L1002.17,499.67 L1003.63,499.67 L1005.09,499.68 L1006.56,499.68 L1008.02,499.68 L1009.49,499.68" fill="none" stroke="#2a2a2a" stroke-width="1.39" stroke-dasharray="5.14 2.22"/>
<path d="M580.02,507.60 L580.45,507.60 L580.87,507.60 L581.29,507.60 L581.72,507.60 L582.14,507.60 L582.56,507.60 L582.99,507.60 L583.41,507.60 L583.83,507.60 L584.26,507.60 L584.68,507.60 L585.10,507.60 L585.53,507.60 L585.95,507.60 L586.37,507.60 L586.80,507.60 L587.22,507.60 L587.64,507.60 L588.07,507.60 L588.49,507.60 L588.91,507.60 L589.34,507.60 L589.76,507.60 L590.18,507.60 L590.61,507.60 L591.03,507.60 L591.45,507.60 L591.88,507.60 L592.30,507.60 L592.72,507.60 L593.15,507.60 L593.57,507.60 L593.99,507.60 L594.42,507.60 L594.84,507.60 L595.26,507.60 L595.69,507.60 L596.11,507.60 L596.53,507.60 L596.96,507.60 L597.38,507.60 L597.80,507.60 L598.23,507.60 L598.65,507.60 L599.07,507.60 L599.50,507.60 L599.92,507.60 L600.34,507.60 L600.77,507.60 L601.19,507.60 L601.61,507.60 L602.04,507.60 L602.46,507.60 L602.88,507.60 L603.31,507.60 L603.73,507.60 L604.15,507.60 L604.58,507.60 L605.00,507.60 L605.42,507.60 L605.85,507.60 L606.27,507.60 L606.69,507.60 L607.12,507.60 L607.54,507.60 L607.96,507.60 L608.39,507.60 L608.81,507.60 L609.23,507.60 L609.66,507.60 L610.08,507.60 L610.50,507.60 L610.93,507.60 L611.35,507.60 L611.77,507.60 L612.20,507.60 L612.62,507.60 L613.04,507.60 L613.47,507.60 L613.89,507.60 L614.31,507.60 L614.74,507.60 L615.16,507.60 L615.58,507.60 L616.01,507.60 L616.43,507.60 L616.85,507.60 L617.28,507.60 L617.70,507.60 L618.12,507.60 L618.55,507.60 L618.97,507.60 L619.39,507.60 L619.82,507.60 L620.24,507.60 L620.66,507.60 L621.09,507.60 L621.51,507.60 L621.93,507.60 L622.36,507.60 L622.78,507.60 L623.20,507.60 L623.62,507.60 L624.05,507.60 L624.47,507.60 L624.89,507.60 L625.32,507.60 L625.74,507.60 L626.16,507.60 L626.59,507.60 L627.01,507.60 L627.43,507.60 L627.86,507.60 L628.28,507.60 L628.70,507.60 L629.13,507.60 L629.55,507.60 L629.97,507.60 L630.40,507.60 L631.86,507.60 L633.33,507.60 L634.79,507.60 L636.25,507.60 L637.72,507.60 L639.18,507.60 L640.64,507.60 L642.11,507.60 L643.57,507.60 L645.03,507.60 L646.50,507.60 L647.96,507.60 L649.43,507.60 L650.89,507.60 L652.35,507.60 L653.82,507.60 L655.28,507.60 L656.74,507.60 L658.21,507.60 L659.67,507.60 L661.13,507.60 L662.60,507.60 L664.06,507.60 L665.53,507.60 L666.99,507.60 L668.45,507.60 L669.92,507.60 L671.38,507.60 L672.84,507.60 L674.31,507.60 L675.77,507.60 L677.24,507.60 L678.70,507.60 L680.16,507.60 L681.63,507.60 L683.09,507.60 L684.55,507.60 L686.02,507.60 L687.48,507.60 L688.94,507.60 L690.41,507.60 L691.87,507.60 L693.34,507.60 L694.80,507.60 L696.26,507.60 L697.73,507.60 L699.19,507.60 L700.65,507.60 L702.12,507.60 L703.58,507.60 L705.04,507.60 L706.51,507.60 L707.97,507.60 L709.44,507.60 L710.90,507.60 L712.36,507.60 L713.83,507.60 L715.29,507.60 L716.75,507.60 L718.22,507.60 L719.68,507.60 L721.14,507.60 L722.61,507.60 L724.07,507.60 L725.54,507.60 L727.00,507.60 L728.46,507.60 L729.93,507.60 L731.39,507.60 L732.85,507.60 L734.32,507.60 L735.78,507.60 L737.24,507.60 L738.71,507.60 L740.17,507.60 L741.64,507.60 L743.10,507.60 L744.56,507.60 L746.03,507.60 L747.49,507.60 L748.95,507.60 L750.42,507.60 L751.88,507.60 L753.35,507.60 L754.81,507.60 L756.27,507.60 L757.74,507.60 L759.20,507.60 L760.66,507.60 L762.13,507.60 L763.59,507.60 L765.05,507.60 L766.52,507.60 L767.98,507.60 L769.45,507.60 L770.91,507.60 L772.37,507.60 L773.84,507.60 L775.30,507.60 L776.76,507.60 L778.23,507.60 L779.69,507.60 L781.15,507.60 L782.62,507.60 L784.08,507.60 L785.55,507.60 L787.01,507.60 L788.47,507.60 L789.94,507.60 L791.40,507.60 L792.86,507.60 L794.33,507.60 L795.79,507.60 L797.25,507.60 L798.72,507.60 L800.18,507.60 L801.65,507.60 L803.11,507.60 L804.57,507.60 L806.04,507.60 L807.50,507.60 L808.96,507.60 L810.43,507.60 L811.89,507.60 L813.36,507.60 L814.82,507.60 L816.28,507.60 L817.75,507.60 L819.21,507.60 L820.67,507.60 L822.14,507.60 L823.60,507.60 L825.06,507.60 L826.53,507.60 L827.99,507.60 L829.46,507.60 L830.92,507.60 L832.38,507.60 L833.85,507.60 L835.31,507.60 L836.77,507.60 L838.24,507.60 L839.70,507.60 L841.16,507.60 L842.63,507.60 L844.09,507.60 L845.56,507.60 L847.02,507.60 L848.48,507.60 L849.95,507.60 L851.41,507.60 L852.87,507.60 L854.34,507.60 L855.80,507.60 L857.26,507.60 L858.73,507.60 L860.19,507.60 L861.66,507.60 L863.12,507.60 L864.58,507.60 L866.05,507.60 L867.51,507.60 L868.97,507.60 L870.44,507.60 L871.90,507.60 L873.37,507.60 L874.83,507.60 L876.29,507.60 L877.76,507.60 L879.22,507.60 L880.68,507.60 L882.15,507.60 L883.61,507.60 L885.07,507.60 L886.54,507.60 L888.00,507.60 L889.47,507.60 L890.93,507.60 L892.39,507.60 L893.86,507.60 L895.32,507.60 L896.78,507.60 L898.25,507.60 L899.71,507.60 L901.17,507.60 L902.64,507.60 L904.10,507.60 L905.57,507.60 L907.03,507.60 L908.49,507.60 L909.96,507.60 L911.42,507.60 L912.88,507.60 L914.35,507.60 L915.81,507.60 L917.27,507.60 L918.74,507.60 L920.20,507.60 L921.67,507.60 L923.13,507.60 L924.59,507.60 L926.06,507.60 L927.52,507.60 L928.98,507.60 L930.45,507.60 L931.91,507.60 L933.38,507.60 L934.84,507.60 L936.30,507.60 L937.77,507.60 L939.23,507.60 L940.69,507.60 L942.16,507.60 L943.62,507.60 L945.08,507.60 L946.55,507.60 L948.01,507.60 L949.48,507.60 L950.94,507.60 L952.40,507.60 L953.87,507.60 L955.33,507.60 L956.79,507.60 L958.26,507.60 L959.72,507.60 L961.18,507.60 L962.65,507.60 L964.11,507.60 L965.58,507.60 L967.04,507.60 L968.50,507.60 L969.97,507.60 L971.43,507.60 L972.89,507.60 L974.36,507.60 L975.82,507.60 L977.28,507.60 L978.75,507.60 L980.21,507.60 L981.68,507.60 L983.14,507.60 L984.60,507.60 L986.07,507.60 L987.53,507.60 L988.99,507.60 L990.46,507.60 L991.92,507.60 L993.38,507.60 L994.85,507.60 L996.31,507.60 L997.78,507.60 L999.24,507.60 L1000.70,507.60 L1002.17,507.60 L1003.63,507.60 L1005.09,507.60 L1006.56,507.60 L1008.02,507.60 L1009.49,507.60" fill="none" stroke="#2a2a2a" stroke-width="1.39"/>
<line x1="666.26" y1="460.64" x2="666.26" y2="401.85" stroke="#ffa500" stroke-width="2.78"/><circle cx="666.26" cy="431.24" r="4.75" fill="#ffa500"/>
<line x1="699.73" y1="564.51" x2="699.73" y2="502.10" stroke="#ff4500" stroke-width="2.78"/><circle cx="699.73" cy="533.30" r="4.75" fill="#ff4500"/>
<line x1="737.98" y1="538.81" x2="737.98" y2="498.22" stroke="#6a5acd" stroke-width="2.78"/><circle cx="737.98" cy="518.52" r="4.75" fill="#6a5acd"/>
<line x1="804.06" y1="526.24" x2="804.06" y2="453.69" stroke="#4682b4" stroke-width="2.78"/><circle cx="804.06" cy="489.96" r="4.75" fill="#4682b4"/>
<line x1="977.04" y1="508.58" x2="977.04" y2="449.84" stroke="#800080" stroke-width="2.78"/><circle cx="977.04" cy="479.21" r="4.75" fill="#800080"/>
</g>
<rect x="75.9" y="17.88" width="425.17" height="358.37" fill="none" stroke="#222" stroke-width="1.1"/>
<rect x="75.9" y="393.47" width="425.17" height="178.88" fill="none" stroke="#222" stroke-width="1.1"/>
<rect x="580.88" y="17.88" width="425.19" height="358.37" fill="none" stroke="#222" stroke-width="1.1"/>
<rect x="580.88" y="393.47" width="425.19" height="178.88" fill="none" stroke="#222" stroke-width="1.1"/>
<line x1="159.57" y1="376.25" x2="159.57" y2="379.75" stroke="#222" stroke-width="1.1"/>
<line x1="159.57" y1="572.35" x2="159.57" y2="575.85" stroke="#222" stroke-width="1.1"/>
<line x1="664.55" y1="376.25" x2="664.55" y2="379.75" stroke="#222" stroke-width="1.1"/>
<line x1="664.55" y1="572.35" x2="664.55" y2="575.85" stroke="#222" stroke-width="1.1"/>
<text x="159.87" y="592.5" class="t" font-size="20.6" text-anchor="middle" textLength="24.72" lengthAdjust="spacingAndGlyphs">0.5</text>
<text x="664.85" y="592.5" class="t" font-size="20.6" text-anchor="middle" textLength="24.72" lengthAdjust="spacingAndGlyphs">0.5</text>
<line x1="244.94" y1="376.25" x2="244.94" y2="379.75" stroke="#222" stroke-width="1.1"/>
<line x1="244.94" y1="572.35" x2="244.94" y2="575.85" stroke="#222" stroke-width="1.1"/>
<line x1="749.93" y1="376.25" x2="749.93" y2="379.75" stroke="#222" stroke-width="1.1"/>
<line x1="749.93" y1="572.35" x2="749.93" y2="575.85" stroke="#222" stroke-width="1.1"/>
<text x="245.25" y="592.5" class="t" font-size="20.6" text-anchor="middle" textLength="24.72" lengthAdjust="spacingAndGlyphs">1.0</text>
<text x="750.23" y="592.5" class="t" font-size="20.6" text-anchor="middle" textLength="24.72" lengthAdjust="spacingAndGlyphs">1.0</text>
<line x1="330.32" y1="376.25" x2="330.32" y2="379.75" stroke="#222" stroke-width="1.1"/>
<line x1="330.32" y1="572.35" x2="330.32" y2="575.85" stroke="#222" stroke-width="1.1"/>
<line x1="835.31" y1="376.25" x2="835.31" y2="379.75" stroke="#222" stroke-width="1.1"/>
<line x1="835.31" y1="572.35" x2="835.31" y2="575.85" stroke="#222" stroke-width="1.1"/>
<text x="330.62" y="592.5" class="t" font-size="20.6" text-anchor="middle" textLength="24.72" lengthAdjust="spacingAndGlyphs">1.5</text>
<text x="835.61" y="592.5" class="t" font-size="20.6" text-anchor="middle" textLength="24.72" lengthAdjust="spacingAndGlyphs">1.5</text>
<line x1="415.69" y1="376.25" x2="415.69" y2="379.75" stroke="#222" stroke-width="1.1"/>
<line x1="415.69" y1="572.35" x2="415.69" y2="575.85" stroke="#222" stroke-width="1.1"/>
<line x1="920.69" y1="376.25" x2="920.69" y2="379.75" stroke="#222" stroke-width="1.1"/>
<line x1="920.69" y1="572.35" x2="920.69" y2="575.85" stroke="#222" stroke-width="1.1"/>
<text x="416.00" y="592.5" class="t" font-size="20.6" text-anchor="middle" textLength="24.72" lengthAdjust="spacingAndGlyphs">2.0</text>
<text x="920.99" y="592.5" class="t" font-size="20.6" text-anchor="middle" textLength="24.72" lengthAdjust="spacingAndGlyphs">2.0</text>
<line x1="501.07" y1="376.25" x2="501.07" y2="379.75" stroke="#222" stroke-width="1.1"/>
<line x1="501.07" y1="572.35" x2="501.07" y2="575.85" stroke="#222" stroke-width="1.1"/>
<line x1="1006.07" y1="376.25" x2="1006.07" y2="379.75" stroke="#222" stroke-width="1.1"/>
<line x1="1006.07" y1="572.35" x2="1006.07" y2="575.85" stroke="#222" stroke-width="1.1"/>
<text x="501.37" y="592.5" class="t" font-size="20.6" text-anchor="middle" textLength="24.72" lengthAdjust="spacingAndGlyphs">2.5</text>
<text x="1006.37" y="592.5" class="t" font-size="20.6" text-anchor="middle" textLength="24.72" lengthAdjust="spacingAndGlyphs">2.5</text>
<line x1="72.4" y1="376.25" x2="75.9" y2="376.25" stroke="#222" stroke-width="1.1"/>
<text x="68.8" y="383.15" class="t" font-size="20.6" text-anchor="end" textLength="18.95" lengthAdjust="spacingAndGlyphs">17</text>
<line x1="72.4" y1="296.61" x2="75.9" y2="296.61" stroke="#222" stroke-width="1.1"/>
<text x="68.8" y="303.51" class="t" font-size="20.6" text-anchor="end" textLength="18.95" lengthAdjust="spacingAndGlyphs">18</text>
<line x1="72.4" y1="216.97" x2="75.9" y2="216.97" stroke="#222" stroke-width="1.1"/>
<text x="68.8" y="223.87" class="t" font-size="20.6" text-anchor="end" textLength="18.95" lengthAdjust="spacingAndGlyphs">19</text>
<line x1="72.4" y1="137.33" x2="75.9" y2="137.33" stroke="#222" stroke-width="1.1"/>
<text x="68.8" y="144.23" class="t" font-size="20.6" text-anchor="end" textLength="18.95" lengthAdjust="spacingAndGlyphs">20</text>
<line x1="72.4" y1="57.69" x2="75.9" y2="57.69" stroke="#222" stroke-width="1.1"/>
<text x="68.8" y="64.59" class="t" font-size="20.6" text-anchor="end" textLength="18.95" lengthAdjust="spacingAndGlyphs">21</text>
<line x1="72.4" y1="537.84" x2="75.9" y2="537.84" stroke="#222" stroke-width="1.1"/>
<text x="68.8" y="544.74" class="t" font-size="20.6" text-anchor="end" textLength="34.61" lengthAdjust="spacingAndGlyphs">0.98</text>
<line x1="72.4" y1="488.90" x2="75.9" y2="488.90" stroke="#222" stroke-width="1.1"/>
<text x="68.8" y="495.80" class="t" font-size="20.6" text-anchor="end" textLength="34.61" lengthAdjust="spacingAndGlyphs">1.00</text>
<line x1="72.4" y1="439.96" x2="75.9" y2="439.96" stroke="#222" stroke-width="1.1"/>
<text x="68.8" y="446.86" class="t" font-size="20.6" text-anchor="end" textLength="34.61" lengthAdjust="spacingAndGlyphs">1.02</text>
<line x1="577.38" y1="360.45" x2="580.88" y2="360.45" stroke="#222" stroke-width="1.1"/>
<text x="574.0" y="367.35" class="t" font-size="20.6" text-anchor="end" textLength="24.72" lengthAdjust="spacingAndGlyphs">1.0</text>
<line x1="577.38" y1="299.67" x2="580.88" y2="299.67" stroke="#222" stroke-width="1.1"/>
<text x="574.0" y="306.57" class="t" font-size="20.6" text-anchor="end" textLength="24.72" lengthAdjust="spacingAndGlyphs">1.2</text>
<line x1="577.38" y1="238.89" x2="580.88" y2="238.89" stroke="#222" stroke-width="1.1"/>
<text x="574.0" y="245.79" class="t" font-size="20.6" text-anchor="end" textLength="24.72" lengthAdjust="spacingAndGlyphs">1.4</text>
<line x1="577.38" y1="178.11" x2="580.88" y2="178.11" stroke="#222" stroke-width="1.1"/>
<text x="574.0" y="185.01" class="t" font-size="20.6" text-anchor="end" textLength="24.72" lengthAdjust="spacingAndGlyphs">1.6</text>
<line x1="577.38" y1="117.33" x2="580.88" y2="117.33" stroke="#222" stroke-width="1.1"/>
<text x="574.0" y="124.23" class="t" font-size="20.6" text-anchor="end" textLength="24.72" lengthAdjust="spacingAndGlyphs">1.8</text>
<line x1="577.38" y1="56.55" x2="580.88" y2="56.55" stroke="#222" stroke-width="1.1"/>
<text x="574.0" y="63.45" class="t" font-size="20.6" text-anchor="end" textLength="24.72" lengthAdjust="spacingAndGlyphs">2.0</text>
<line x1="577.38" y1="507.60" x2="580.88" y2="507.60" stroke="#222" stroke-width="1.1"/>
<text x="574.0" y="514.50" class="t" font-size="20.6" text-anchor="end" textLength="24.72" lengthAdjust="spacingAndGlyphs">1.0</text>
<line x1="577.38" y1="432.20" x2="580.88" y2="432.20" stroke="#222" stroke-width="1.1"/>
<text x="574.0" y="439.10" class="t" font-size="20.6" text-anchor="end" textLength="24.72" lengthAdjust="spacingAndGlyphs">1.1</text>
<text x="243.0" y="616.4" font-size="20.8" textLength="73.0" lengthAdjust="spacingAndGlyphs">Redshift</text>
<text x="325.2" y="616.4" font-size="20.8" font-style="italic" textLength="9.2" lengthAdjust="spacingAndGlyphs">z</text>
<text x="748.0" y="616.4" font-size="20.8" textLength="73.0" lengthAdjust="spacingAndGlyphs">Redshift</text>
<text x="830.2" y="616.4" font-size="20.8" font-style="italic" textLength="9.2" lengthAdjust="spacingAndGlyphs">z</text>
<text transform="translate(39.7,196.3) rotate(-90)" font-size="20.8" text-anchor="middle" textLength="106.7" lengthAdjust="spacingAndGlyphs"><tspan font-style="italic">D</tspan><tspan class="s" font-size="15.0" dy="3.10">V</tspan><tspan font-size="31" dy="1.90">/</tspan><tspan font-size="23.2" dy="-4.50">(</tspan><tspan font-style="italic" dy="-0.50">r</tspan><tspan class="s" font-size="15.0" dy="3.10">d</tspan><tspan font-style="italic" dy="-3.10">z</tspan><tspan class="s" font-size="15.0" dy="-8.70">2</tspan><tspan font-size="21.5" dy="3.40">/</tspan><tspan class="s" font-size="15.0" dy="-3.40">3</tspan><tspan font-size="23.2" dy="9.20">)</tspan></text>
<text transform="translate(540.0,198.0) rotate(-90)" font-size="20.8" text-anchor="middle" textLength="100" lengthAdjust="spacingAndGlyphs"><tspan font-style="italic">D</tspan><tspan class="s" font-size="15.0" dy="3.10">M</tspan><tspan font-size="31" dy="1.90">/</tspan><tspan font-size="23.2" dy="-4.50">(</tspan><tspan font-style="italic" dy="-0.50">z</tspan><tspan font-style="italic">D</tspan><tspan class="s" font-size="15.0" dy="3.10">H</tspan><tspan font-size="23.2" dy="-2.60">)</tspan></text>
<text transform="translate(25.8,482.8) rotate(-90)" font-size="20.8" text-anchor="middle" textLength="175.2" lengthAdjust="spacingAndGlyphs"><tspan font-size="23.2" dy="0.50">(</tspan><tspan font-style="italic" dy="-0.50">D</tspan><tspan class="s" font-size="15.0" dy="3.10">V</tspan><tspan font-size="31" dy="1.90">/</tspan><tspan font-style="italic" dy="-5.00">r</tspan><tspan class="s" font-size="15.0" dy="3.10">d</tspan><tspan font-size="23.2" dy="-2.60">)</tspan><tspan font-size="31" dy="4.50">/</tspan><tspan font-size="23.2" dy="-4.50">(</tspan><tspan font-style="italic" dy="-0.50">D</tspan><tspan class="s" font-size="15.0" dy="3.10">V</tspan><tspan font-size="31" dy="1.90">/</tspan><tspan font-style="italic" dy="-5.00">r</tspan><tspan class="s" font-size="15.0" dy="3.10">d</tspan><tspan font-size="23.2" dy="-2.60">)</tspan><tspan class="s" font-size="15.9" dy="-7.40">best</tspan></text>
<text transform="translate(540.4,479.2) rotate(-90)" font-size="20.8" text-anchor="middle" textLength="191.5" lengthAdjust="spacingAndGlyphs"><tspan font-size="23.2" dy="0.50">(</tspan><tspan font-style="italic" dy="-0.50">D</tspan><tspan class="s" font-size="15.0" dy="3.10">M</tspan><tspan font-size="31" dy="1.90">/</tspan><tspan font-style="italic" dy="-5.00">D</tspan><tspan class="s" font-size="15.0" dy="3.10">H</tspan><tspan font-size="23.2" dy="-2.60">)</tspan><tspan font-size="31" dy="4.50">/</tspan><tspan font-size="23.2" dy="-4.50">(</tspan><tspan font-style="italic" dy="-0.50">D</tspan><tspan class="s" font-size="15.0" dy="3.10">M</tspan><tspan font-size="31" dy="1.90">/</tspan><tspan font-style="italic" dy="-5.00">D</tspan><tspan class="s" font-size="15.0" dy="3.10">H</tspan><tspan font-size="23.2" dy="-2.60">)</tspan><tspan class="s" font-size="15.9" dy="-7.40">best</tspan></text>
<rect x="187.4" y="182.20" width="31.50" height="10.8" fill="#dedede"/>
<line x1="187.4" y1="187.60" x2="214.9" y2="187.60" stroke="#2a2a2a" stroke-width="1.39" stroke-dasharray="5.14 2.22"/>
<text x="230.8" y="192.40" class="l" font-size="14.6" textLength="77.6" lengthAdjust="spacingAndGlyphs"><tspan font-style="italic">Planck</tspan> <tspan font-size="17.5">±</tspan> 1<tspan font-style="italic">σ</tspan></text>
<line x1="187.4" y1="208.40" x2="218.9" y2="208.40" stroke="#2a2a2a" stroke-width="1.39"/>
<text x="230.8" y="213.20" class="l" font-size="14.6" textLength="94.2" lengthAdjust="spacingAndGlyphs">best-fit ΛCDM</text>
<line x1="187.4" y1="229.20" x2="218.9" y2="229.20" stroke="#9acd32" stroke-width="2.78"/>
<line x1="203.15" y1="221.80" x2="203.15" y2="236.60" stroke="#9acd32" stroke-width="2.78"/>
<circle cx="203.15" cy="229.20" r="4.75" fill="#9acd32"/>
<text x="230.8" y="234.00" class="l" font-size="14.6" textLength="29.5" lengthAdjust="spacingAndGlyphs">BGS</text>
<line x1="187.4" y1="250.20" x2="218.9" y2="250.20" stroke="#ffa500" stroke-width="2.78"/>
<line x1="203.15" y1="242.80" x2="203.15" y2="257.60" stroke="#ffa500" stroke-width="2.78"/>
<circle cx="203.15" cy="250.20" r="4.75" fill="#ffa500"/>
<text x="230.8" y="255.00" class="l" font-size="14.6" textLength="29.4" lengthAdjust="spacingAndGlyphs">LRG</text>
<line x1="187.4" y1="271.20" x2="218.9" y2="271.20" stroke="#ff4500" stroke-width="2.78"/>
<line x1="203.15" y1="263.80" x2="203.15" y2="278.60" stroke="#ff4500" stroke-width="2.78"/>
<circle cx="203.15" cy="271.20" r="4.75" fill="#ff4500"/>
<text x="230.8" y="276.00" class="l" font-size="14.6" textLength="29.4" lengthAdjust="spacingAndGlyphs">LRG</text>
<line x1="187.4" y1="292.20" x2="218.9" y2="292.20" stroke="#6a5acd" stroke-width="2.78"/>
<line x1="203.15" y1="284.80" x2="203.15" y2="299.60" stroke="#6a5acd" stroke-width="2.78"/>
<circle cx="203.15" cy="292.20" r="4.75" fill="#6a5acd"/>
<text x="230.8" y="297.00" class="l" font-size="14.6" textLength="71.8" lengthAdjust="spacingAndGlyphs">LRG<tspan font-size="17">+</tspan>ELG</text>
<line x1="187.4" y1="313.10" x2="218.9" y2="313.10" stroke="#4682b4" stroke-width="2.78"/>
<line x1="203.15" y1="305.70" x2="203.15" y2="320.50" stroke="#4682b4" stroke-width="2.78"/>
<circle cx="203.15" cy="313.10" r="4.75" fill="#4682b4"/>
<text x="230.8" y="317.90" class="l" font-size="14.6" textLength="28.9" lengthAdjust="spacingAndGlyphs">ELG</text>
<line x1="187.4" y1="334.20" x2="218.9" y2="334.20" stroke="#2e8b57" stroke-width="2.78"/>
<line x1="203.15" y1="326.80" x2="203.15" y2="341.60" stroke="#2e8b57" stroke-width="2.78"/>
<circle cx="203.15" cy="334.20" r="4.75" fill="#2e8b57"/>
<text x="230.8" y="339.00" class="l" font-size="14.6" textLength="29.8" lengthAdjust="spacingAndGlyphs">QSO</text>
<line x1="187.4" y1="355.30" x2="218.9" y2="355.30" stroke="#800080" stroke-width="2.78"/>
<line x1="203.15" y1="347.90" x2="203.15" y2="362.70" stroke="#800080" stroke-width="2.78"/>
<circle cx="203.15" cy="355.30" r="4.75" fill="#800080"/>
<text x="230.8" y="360.10" class="l" font-size="14.6" textLength="29.4" lengthAdjust="spacingAndGlyphs">Ly-<tspan font-style="italic">α</tspan></text>
<rect x="854.4" y="223.80" width="30.80" height="10.8" fill="#dedede"/>
<line x1="854.4" y1="229.20" x2="881.9" y2="229.20" stroke="#2a2a2a" stroke-width="1.39" stroke-dasharray="5.14 2.22"/>
<text x="897.7" y="234.00" class="l" font-size="14.6" textLength="77.6" lengthAdjust="spacingAndGlyphs"><tspan font-style="italic">Planck</tspan> <tspan font-size="17.5">±</tspan> 1<tspan font-style="italic">σ</tspan></text>
<line x1="854.4" y1="249.90" x2="885.2" y2="249.90" stroke="#2a2a2a" stroke-width="1.39"/>
<text x="897.7" y="254.70" class="l" font-size="14.6" textLength="94.0" lengthAdjust="spacingAndGlyphs">best-fit ΛCDM</text>
<line x1="854.4" y1="270.70" x2="885.2" y2="270.70" stroke="#ffa500" stroke-width="2.78"/>
<line x1="869.80" y1="263.30" x2="869.80" y2="278.10" stroke="#ffa500" stroke-width="2.78"/>
<circle cx="869.80" cy="270.70" r="4.75" fill="#ffa500"/>
<text x="897.7" y="275.50" class="l" font-size="14.6" textLength="29.4" lengthAdjust="spacingAndGlyphs">LRG</text>
<line x1="854.4" y1="291.60" x2="885.2" y2="291.60" stroke="#ff4500" stroke-width="2.78"/>
<line x1="869.80" y1="284.20" x2="869.80" y2="299.00" stroke="#ff4500" stroke-width="2.78"/>
<circle cx="869.80" cy="291.60" r="4.75" fill="#ff4500"/>
<text x="897.7" y="296.40" class="l" font-size="14.6" textLength="29.4" lengthAdjust="spacingAndGlyphs">LRG</text>
<line x1="854.4" y1="312.40" x2="885.2" y2="312.40" stroke="#6a5acd" stroke-width="2.78"/>
<line x1="869.80" y1="305.00" x2="869.80" y2="319.80" stroke="#6a5acd" stroke-width="2.78"/>
<circle cx="869.80" cy="312.40" r="4.75" fill="#6a5acd"/>
<text x="897.7" y="317.20" class="l" font-size="14.6" textLength="71.6" lengthAdjust="spacingAndGlyphs">LRG<tspan font-size="17">+</tspan>ELG</text>
<line x1="854.4" y1="333.30" x2="885.2" y2="333.30" stroke="#4682b4" stroke-width="2.78"/>
<line x1="869.80" y1="325.90" x2="869.80" y2="340.70" stroke="#4682b4" stroke-width="2.78"/>
<circle cx="869.80" cy="333.30" r="4.75" fill="#4682b4"/>
<text x="897.7" y="338.10" class="l" font-size="14.6" textLength="28.9" lengthAdjust="spacingAndGlyphs">ELG</text>
<line x1="854.4" y1="354.10" x2="885.2" y2="354.10" stroke="#800080" stroke-width="2.78"/>
<line x1="869.80" y1="346.70" x2="869.80" y2="361.50" stroke="#800080" stroke-width="2.78"/>
<circle cx="869.80" cy="354.10" r="4.75" fill="#800080"/>
<text x="897.7" y="358.90" class="l" font-size="14.6" textLength="29.4" lengthAdjust="spacingAndGlyphs">Ly-<tspan font-style="italic">α</tspan></text>
</svg>
</body></html>
